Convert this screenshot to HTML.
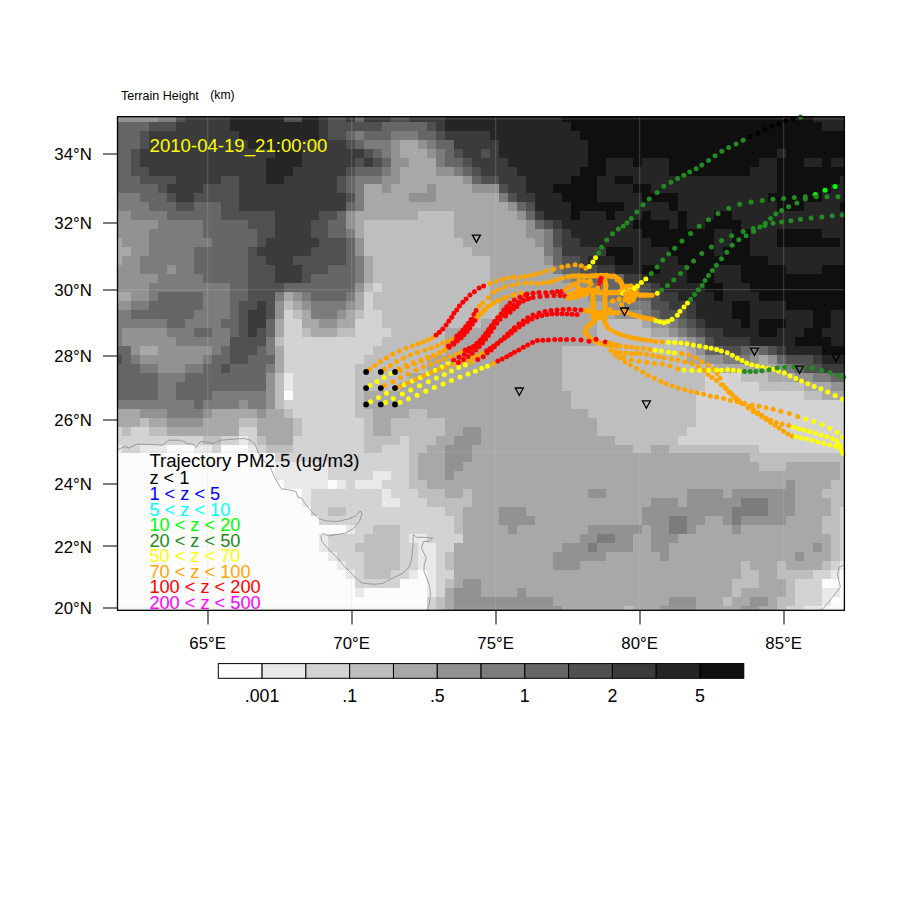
<!DOCTYPE html>
<html><head><meta charset="utf-8">
<style>
html,body{margin:0;padding:0;background:#fff;}
body{width:900px;height:900px;overflow:hidden;}
svg{display:block;}
</style></head>
<body>
<svg width="900" height="900" viewBox="0 0 900 900" font-family="'Liberation Sans', sans-serif">
<rect width="900" height="900" fill="#fff"/>
<g shape-rendering="crispEdges"><rect x="117.50" y="116.70" width="40.57" height="5.00" fill="#929292"/><rect x="158.07" y="116.70" width="17.93" height="5.00" fill="#7c7c7c"/><rect x="176.00" y="116.70" width="8.97" height="5.00" fill="#505050"/><rect x="184.97" y="116.70" width="44.84" height="5.00" fill="#3b3b3b"/><rect x="229.80" y="116.70" width="53.80" height="5.00" fill="#252525"/><rect x="283.61" y="116.70" width="17.93" height="5.00" fill="#505050"/><rect x="301.54" y="116.70" width="17.93" height="5.00" fill="#252525"/><rect x="319.47" y="116.70" width="8.97" height="5.00" fill="#3b3b3b"/><rect x="328.44" y="116.70" width="17.93" height="5.00" fill="#505050"/><rect x="346.38" y="116.70" width="8.97" height="5.00" fill="#3b3b3b"/><rect x="355.34" y="116.70" width="8.97" height="5.00" fill="#666666"/><rect x="364.31" y="116.70" width="26.90" height="5.00" fill="#3b3b3b"/><rect x="391.21" y="116.70" width="17.93" height="5.00" fill="#505050"/><rect x="409.14" y="116.70" width="35.87" height="5.00" fill="#3b3b3b"/><rect x="445.01" y="116.70" width="116.57" height="5.00" fill="#252525"/><rect x="561.58" y="116.70" width="251.08" height="5.00" fill="#0f0f0f"/><rect x="812.66" y="116.70" width="31.74" height="5.00" fill="#252525"/><rect x="117.50" y="121.70" width="31.60" height="8.97" fill="#666666"/><rect x="149.10" y="121.70" width="26.90" height="8.97" fill="#505050"/><rect x="176.00" y="121.70" width="53.80" height="8.97" fill="#3b3b3b"/><rect x="229.80" y="121.70" width="89.67" height="8.97" fill="#252525"/><rect x="319.47" y="121.70" width="8.97" height="8.97" fill="#3b3b3b"/><rect x="328.44" y="121.70" width="53.80" height="8.97" fill="#505050"/><rect x="382.24" y="121.70" width="44.84" height="8.97" fill="#666666"/><rect x="427.08" y="121.70" width="8.97" height="8.97" fill="#505050"/><rect x="436.05" y="121.70" width="8.97" height="8.97" fill="#3b3b3b"/><rect x="445.01" y="121.70" width="125.54" height="8.97" fill="#252525"/><rect x="570.55" y="121.70" width="251.08" height="8.97" fill="#0f0f0f"/><rect x="821.63" y="121.70" width="22.77" height="8.97" fill="#252525"/><rect x="117.50" y="130.67" width="22.63" height="8.97" fill="#666666"/><rect x="140.13" y="130.67" width="8.97" height="8.97" fill="#505050"/><rect x="149.10" y="130.67" width="89.67" height="8.97" fill="#3b3b3b"/><rect x="238.77" y="130.67" width="80.70" height="8.97" fill="#252525"/><rect x="319.47" y="130.67" width="8.97" height="8.97" fill="#3b3b3b"/><rect x="328.44" y="130.67" width="17.93" height="8.97" fill="#505050"/><rect x="346.38" y="130.67" width="8.97" height="8.97" fill="#666666"/><rect x="355.34" y="130.67" width="8.97" height="8.97" fill="#7c7c7c"/><rect x="364.31" y="130.67" width="26.90" height="8.97" fill="#666666"/><rect x="391.21" y="130.67" width="26.90" height="8.97" fill="#7c7c7c"/><rect x="418.11" y="130.67" width="17.93" height="8.97" fill="#666666"/><rect x="436.05" y="130.67" width="8.97" height="8.97" fill="#505050"/><rect x="445.01" y="130.67" width="44.84" height="8.97" fill="#3b3b3b"/><rect x="489.85" y="130.67" width="89.67" height="8.97" fill="#252525"/><rect x="579.52" y="130.67" width="264.88" height="8.97" fill="#0f0f0f"/><rect x="117.50" y="139.63" width="22.63" height="8.97" fill="#666666"/><rect x="140.13" y="139.63" width="8.97" height="8.97" fill="#505050"/><rect x="149.10" y="139.63" width="98.64" height="8.97" fill="#3b3b3b"/><rect x="247.74" y="139.63" width="53.80" height="8.97" fill="#252525"/><rect x="301.54" y="139.63" width="44.83" height="8.97" fill="#3b3b3b"/><rect x="346.38" y="139.63" width="8.97" height="8.97" fill="#505050"/><rect x="355.34" y="139.63" width="8.97" height="8.97" fill="#666666"/><rect x="364.31" y="139.63" width="26.90" height="8.97" fill="#7c7c7c"/><rect x="391.21" y="139.63" width="8.97" height="8.97" fill="#929292"/><rect x="400.18" y="139.63" width="17.93" height="8.97" fill="#a8a8a8"/><rect x="418.11" y="139.63" width="8.97" height="8.97" fill="#929292"/><rect x="427.08" y="139.63" width="8.97" height="8.97" fill="#7c7c7c"/><rect x="436.05" y="139.63" width="17.93" height="8.97" fill="#666666"/><rect x="453.98" y="139.63" width="44.84" height="8.97" fill="#3b3b3b"/><rect x="498.81" y="139.63" width="89.67" height="8.97" fill="#252525"/><rect x="588.48" y="139.63" width="255.92" height="8.97" fill="#0f0f0f"/><rect x="117.50" y="148.60" width="13.67" height="8.97" fill="#666666"/><rect x="131.17" y="148.60" width="8.97" height="8.97" fill="#505050"/><rect x="140.13" y="148.60" width="134.50" height="8.97" fill="#3b3b3b"/><rect x="274.64" y="148.60" width="26.90" height="8.97" fill="#252525"/><rect x="301.54" y="148.60" width="62.77" height="8.97" fill="#3b3b3b"/><rect x="364.31" y="148.60" width="8.97" height="8.97" fill="#505050"/><rect x="373.28" y="148.60" width="8.97" height="8.97" fill="#666666"/><rect x="382.24" y="148.60" width="8.97" height="8.97" fill="#7c7c7c"/><rect x="391.21" y="148.60" width="8.97" height="8.97" fill="#929292"/><rect x="400.18" y="148.60" width="26.90" height="8.97" fill="#a8a8a8"/><rect x="427.08" y="148.60" width="8.97" height="8.97" fill="#929292"/><rect x="436.05" y="148.60" width="8.97" height="8.97" fill="#7c7c7c"/><rect x="445.01" y="148.60" width="8.97" height="8.97" fill="#666666"/><rect x="453.98" y="148.60" width="8.97" height="8.97" fill="#505050"/><rect x="462.95" y="148.60" width="17.93" height="8.97" fill="#3b3b3b"/><rect x="480.88" y="148.60" width="8.97" height="8.97" fill="#505050"/><rect x="489.85" y="148.60" width="8.97" height="8.97" fill="#3b3b3b"/><rect x="498.81" y="148.60" width="89.67" height="8.97" fill="#252525"/><rect x="588.48" y="148.60" width="188.31" height="8.97" fill="#0f0f0f"/><rect x="776.79" y="148.60" width="8.97" height="8.97" fill="#252525"/><rect x="785.76" y="148.60" width="58.64" height="8.97" fill="#0f0f0f"/><rect x="117.50" y="157.57" width="13.67" height="8.97" fill="#666666"/><rect x="131.17" y="157.57" width="8.97" height="8.97" fill="#505050"/><rect x="140.13" y="157.57" width="125.54" height="8.97" fill="#3b3b3b"/><rect x="265.67" y="157.57" width="35.87" height="8.97" fill="#252525"/><rect x="301.54" y="157.57" width="53.80" height="8.97" fill="#3b3b3b"/><rect x="355.34" y="157.57" width="8.97" height="8.97" fill="#505050"/><rect x="364.31" y="157.57" width="8.97" height="8.97" fill="#3b3b3b"/><rect x="373.28" y="157.57" width="8.97" height="8.97" fill="#505050"/><rect x="382.24" y="157.57" width="8.97" height="8.97" fill="#666666"/><rect x="391.21" y="157.57" width="17.93" height="8.97" fill="#929292"/><rect x="409.14" y="157.57" width="26.90" height="8.97" fill="#a8a8a8"/><rect x="436.05" y="157.57" width="8.97" height="8.97" fill="#7c7c7c"/><rect x="445.01" y="157.57" width="17.93" height="8.97" fill="#666666"/><rect x="462.95" y="157.57" width="8.97" height="8.97" fill="#505050"/><rect x="471.91" y="157.57" width="35.87" height="8.97" fill="#3b3b3b"/><rect x="507.78" y="157.57" width="80.70" height="8.97" fill="#252525"/><rect x="588.48" y="157.57" width="17.93" height="8.97" fill="#0f0f0f"/><rect x="606.42" y="157.57" width="26.90" height="8.97" fill="#252525"/><rect x="633.32" y="157.57" width="8.97" height="8.97" fill="#0f0f0f"/><rect x="642.29" y="157.57" width="26.90" height="8.97" fill="#252525"/><rect x="669.19" y="157.57" width="89.67" height="8.97" fill="#0f0f0f"/><rect x="758.86" y="157.57" width="17.93" height="8.97" fill="#252525"/><rect x="776.79" y="157.57" width="26.90" height="8.97" fill="#0f0f0f"/><rect x="803.69" y="157.57" width="17.93" height="8.97" fill="#252525"/><rect x="821.63" y="157.57" width="8.97" height="8.97" fill="#0f0f0f"/><rect x="830.59" y="157.57" width="13.81" height="8.97" fill="#252525"/><rect x="117.50" y="166.53" width="13.67" height="8.97" fill="#666666"/><rect x="131.17" y="166.53" width="17.93" height="8.97" fill="#505050"/><rect x="149.10" y="166.53" width="116.57" height="8.97" fill="#3b3b3b"/><rect x="265.67" y="166.53" width="26.90" height="8.97" fill="#252525"/><rect x="292.57" y="166.53" width="53.80" height="8.97" fill="#3b3b3b"/><rect x="346.38" y="166.53" width="8.97" height="8.97" fill="#505050"/><rect x="355.34" y="166.53" width="26.90" height="8.97" fill="#666666"/><rect x="382.24" y="166.53" width="8.97" height="8.97" fill="#7c7c7c"/><rect x="391.21" y="166.53" width="8.97" height="8.97" fill="#929292"/><rect x="400.18" y="166.53" width="35.87" height="8.97" fill="#a8a8a8"/><rect x="436.05" y="166.53" width="17.93" height="8.97" fill="#929292"/><rect x="453.98" y="166.53" width="8.97" height="8.97" fill="#7c7c7c"/><rect x="462.95" y="166.53" width="8.97" height="8.97" fill="#666666"/><rect x="471.91" y="166.53" width="8.97" height="8.97" fill="#505050"/><rect x="480.88" y="166.53" width="35.87" height="8.97" fill="#3b3b3b"/><rect x="516.75" y="166.53" width="62.77" height="8.97" fill="#252525"/><rect x="579.52" y="166.53" width="26.90" height="8.97" fill="#0f0f0f"/><rect x="606.42" y="166.53" width="62.77" height="8.97" fill="#252525"/><rect x="669.19" y="166.53" width="80.70" height="8.97" fill="#0f0f0f"/><rect x="749.89" y="166.53" width="26.90" height="8.97" fill="#252525"/><rect x="776.79" y="166.53" width="67.61" height="8.97" fill="#0f0f0f"/><rect x="117.50" y="175.50" width="22.63" height="8.97" fill="#666666"/><rect x="140.13" y="175.50" width="35.87" height="8.97" fill="#505050"/><rect x="176.00" y="175.50" width="44.83" height="8.97" fill="#3b3b3b"/><rect x="220.84" y="175.50" width="17.93" height="8.97" fill="#505050"/><rect x="238.77" y="175.50" width="26.90" height="8.97" fill="#3b3b3b"/><rect x="265.67" y="175.50" width="17.93" height="8.97" fill="#252525"/><rect x="283.61" y="175.50" width="53.80" height="8.97" fill="#3b3b3b"/><rect x="337.41" y="175.50" width="8.97" height="8.97" fill="#505050"/><rect x="346.38" y="175.50" width="8.97" height="8.97" fill="#666666"/><rect x="355.34" y="175.50" width="26.90" height="8.97" fill="#7c7c7c"/><rect x="382.24" y="175.50" width="17.93" height="8.97" fill="#929292"/><rect x="400.18" y="175.50" width="62.77" height="8.97" fill="#a8a8a8"/><rect x="462.95" y="175.50" width="8.97" height="8.97" fill="#929292"/><rect x="471.91" y="175.50" width="8.97" height="8.97" fill="#666666"/><rect x="480.88" y="175.50" width="17.93" height="8.97" fill="#505050"/><rect x="498.81" y="175.50" width="26.90" height="8.97" fill="#3b3b3b"/><rect x="525.72" y="175.50" width="44.84" height="8.97" fill="#252525"/><rect x="570.55" y="175.50" width="26.90" height="8.97" fill="#0f0f0f"/><rect x="597.45" y="175.50" width="17.93" height="8.97" fill="#252525"/><rect x="615.38" y="175.50" width="17.93" height="8.97" fill="#0f0f0f"/><rect x="633.32" y="175.50" width="143.47" height="8.97" fill="#252525"/><rect x="776.79" y="175.50" width="62.77" height="8.97" fill="#0f0f0f"/><rect x="839.56" y="175.50" width="4.84" height="8.97" fill="#252525"/><rect x="117.50" y="184.47" width="40.57" height="8.97" fill="#666666"/><rect x="158.07" y="184.47" width="8.97" height="8.97" fill="#505050"/><rect x="167.03" y="184.47" width="35.87" height="8.97" fill="#3b3b3b"/><rect x="202.90" y="184.47" width="35.87" height="8.97" fill="#505050"/><rect x="238.77" y="184.47" width="98.64" height="8.97" fill="#3b3b3b"/><rect x="337.41" y="184.47" width="8.97" height="8.97" fill="#505050"/><rect x="346.38" y="184.47" width="8.97" height="8.97" fill="#666666"/><rect x="355.34" y="184.47" width="8.97" height="8.97" fill="#7c7c7c"/><rect x="364.31" y="184.47" width="17.93" height="8.97" fill="#a8a8a8"/><rect x="382.24" y="184.47" width="8.97" height="8.97" fill="#929292"/><rect x="391.21" y="184.47" width="35.87" height="8.97" fill="#a8a8a8"/><rect x="427.08" y="184.47" width="8.97" height="8.97" fill="#929292"/><rect x="436.05" y="184.47" width="35.87" height="8.97" fill="#a8a8a8"/><rect x="471.91" y="184.47" width="26.90" height="8.97" fill="#929292"/><rect x="498.81" y="184.47" width="8.97" height="8.97" fill="#505050"/><rect x="507.78" y="184.47" width="17.93" height="8.97" fill="#3b3b3b"/><rect x="525.72" y="184.47" width="26.90" height="8.97" fill="#252525"/><rect x="552.62" y="184.47" width="44.83" height="8.97" fill="#0f0f0f"/><rect x="597.45" y="184.47" width="35.87" height="8.97" fill="#252525"/><rect x="633.32" y="184.47" width="17.93" height="8.97" fill="#0f0f0f"/><rect x="651.25" y="184.47" width="125.54" height="8.97" fill="#252525"/><rect x="776.79" y="184.47" width="53.80" height="8.97" fill="#0f0f0f"/><rect x="830.59" y="184.47" width="13.81" height="8.97" fill="#252525"/><rect x="117.50" y="193.44" width="22.63" height="8.97" fill="#7c7c7c"/><rect x="140.13" y="193.44" width="26.90" height="8.97" fill="#666666"/><rect x="167.03" y="193.44" width="8.97" height="8.97" fill="#505050"/><rect x="176.00" y="193.44" width="17.93" height="8.97" fill="#3b3b3b"/><rect x="193.94" y="193.44" width="44.84" height="8.97" fill="#505050"/><rect x="238.77" y="193.44" width="107.60" height="8.97" fill="#3b3b3b"/><rect x="346.38" y="193.44" width="8.97" height="8.97" fill="#505050"/><rect x="355.34" y="193.44" width="8.97" height="8.97" fill="#7c7c7c"/><rect x="364.31" y="193.44" width="44.83" height="8.97" fill="#a8a8a8"/><rect x="409.14" y="193.44" width="26.90" height="8.97" fill="#929292"/><rect x="436.05" y="193.44" width="62.77" height="8.97" fill="#a8a8a8"/><rect x="498.81" y="193.44" width="8.97" height="8.97" fill="#7c7c7c"/><rect x="507.78" y="193.44" width="8.97" height="8.97" fill="#505050"/><rect x="516.75" y="193.44" width="17.93" height="8.97" fill="#3b3b3b"/><rect x="534.68" y="193.44" width="26.90" height="8.97" fill="#252525"/><rect x="561.58" y="193.44" width="35.87" height="8.97" fill="#0f0f0f"/><rect x="597.45" y="193.44" width="44.84" height="8.97" fill="#252525"/><rect x="642.29" y="193.44" width="35.87" height="8.97" fill="#0f0f0f"/><rect x="678.15" y="193.44" width="89.67" height="8.97" fill="#252525"/><rect x="767.82" y="193.44" width="53.80" height="8.97" fill="#0f0f0f"/><rect x="821.63" y="193.44" width="22.77" height="8.97" fill="#252525"/><rect x="117.50" y="202.40" width="31.60" height="8.97" fill="#7c7c7c"/><rect x="149.10" y="202.40" width="26.90" height="8.97" fill="#666666"/><rect x="176.00" y="202.40" width="17.93" height="8.97" fill="#505050"/><rect x="193.94" y="202.40" width="26.90" height="8.97" fill="#666666"/><rect x="220.84" y="202.40" width="17.93" height="8.97" fill="#505050"/><rect x="238.77" y="202.40" width="107.60" height="8.97" fill="#3b3b3b"/><rect x="346.38" y="202.40" width="8.97" height="8.97" fill="#666666"/><rect x="355.34" y="202.40" width="8.97" height="8.97" fill="#7c7c7c"/><rect x="364.31" y="202.40" width="143.47" height="8.97" fill="#a8a8a8"/><rect x="507.78" y="202.40" width="8.97" height="8.97" fill="#929292"/><rect x="516.75" y="202.40" width="8.97" height="8.97" fill="#666666"/><rect x="525.72" y="202.40" width="8.97" height="8.97" fill="#505050"/><rect x="534.68" y="202.40" width="35.87" height="8.97" fill="#252525"/><rect x="570.55" y="202.40" width="53.80" height="8.97" fill="#0f0f0f"/><rect x="624.35" y="202.40" width="44.84" height="8.97" fill="#252525"/><rect x="669.19" y="202.40" width="8.97" height="8.97" fill="#0f0f0f"/><rect x="678.15" y="202.40" width="98.64" height="8.97" fill="#252525"/><rect x="776.79" y="202.40" width="26.90" height="8.97" fill="#0f0f0f"/><rect x="803.69" y="202.40" width="35.87" height="8.97" fill="#252525"/><rect x="839.56" y="202.40" width="4.84" height="8.97" fill="#0f0f0f"/><rect x="117.50" y="211.37" width="13.67" height="8.97" fill="#929292"/><rect x="131.17" y="211.37" width="35.87" height="8.97" fill="#7c7c7c"/><rect x="167.03" y="211.37" width="53.80" height="8.97" fill="#666666"/><rect x="220.84" y="211.37" width="53.80" height="8.97" fill="#505050"/><rect x="274.64" y="211.37" width="44.83" height="8.97" fill="#3b3b3b"/><rect x="319.47" y="211.37" width="17.93" height="8.97" fill="#505050"/><rect x="337.41" y="211.37" width="8.97" height="8.97" fill="#666666"/><rect x="346.38" y="211.37" width="8.97" height="8.97" fill="#929292"/><rect x="355.34" y="211.37" width="62.77" height="8.97" fill="#a8a8a8"/><rect x="418.11" y="211.37" width="35.87" height="8.97" fill="#bebebe"/><rect x="453.98" y="211.37" width="62.77" height="8.97" fill="#a8a8a8"/><rect x="516.75" y="211.37" width="8.97" height="8.97" fill="#929292"/><rect x="525.72" y="211.37" width="8.97" height="8.97" fill="#666666"/><rect x="534.68" y="211.37" width="8.97" height="8.97" fill="#3b3b3b"/><rect x="543.65" y="211.37" width="26.90" height="8.97" fill="#252525"/><rect x="570.55" y="211.37" width="8.97" height="8.97" fill="#0f0f0f"/><rect x="579.52" y="211.37" width="26.90" height="8.97" fill="#252525"/><rect x="606.42" y="211.37" width="8.97" height="8.97" fill="#0f0f0f"/><rect x="615.38" y="211.37" width="26.90" height="8.97" fill="#252525"/><rect x="642.29" y="211.37" width="8.97" height="8.97" fill="#0f0f0f"/><rect x="651.25" y="211.37" width="26.90" height="8.97" fill="#252525"/><rect x="678.15" y="211.37" width="8.97" height="8.97" fill="#0f0f0f"/><rect x="687.12" y="211.37" width="26.90" height="8.97" fill="#252525"/><rect x="714.02" y="211.37" width="17.93" height="8.97" fill="#0f0f0f"/><rect x="731.96" y="211.37" width="112.44" height="8.97" fill="#252525"/><rect x="117.50" y="220.34" width="40.57" height="8.97" fill="#929292"/><rect x="158.07" y="220.34" width="44.84" height="8.97" fill="#7c7c7c"/><rect x="202.90" y="220.34" width="44.83" height="8.97" fill="#666666"/><rect x="247.74" y="220.34" width="26.90" height="8.97" fill="#505050"/><rect x="274.64" y="220.34" width="35.87" height="8.97" fill="#3b3b3b"/><rect x="310.51" y="220.34" width="17.93" height="8.97" fill="#505050"/><rect x="328.44" y="220.34" width="17.93" height="8.97" fill="#666666"/><rect x="346.38" y="220.34" width="8.97" height="8.97" fill="#929292"/><rect x="355.34" y="220.34" width="8.97" height="8.97" fill="#a8a8a8"/><rect x="364.31" y="220.34" width="89.67" height="8.97" fill="#bebebe"/><rect x="453.98" y="220.34" width="71.74" height="8.97" fill="#a8a8a8"/><rect x="525.72" y="220.34" width="8.97" height="8.97" fill="#929292"/><rect x="534.68" y="220.34" width="8.97" height="8.97" fill="#666666"/><rect x="543.65" y="220.34" width="8.97" height="8.97" fill="#505050"/><rect x="552.62" y="220.34" width="8.97" height="8.97" fill="#3b3b3b"/><rect x="561.58" y="220.34" width="71.74" height="8.97" fill="#252525"/><rect x="633.32" y="220.34" width="35.87" height="8.97" fill="#0f0f0f"/><rect x="669.19" y="220.34" width="8.97" height="8.97" fill="#252525"/><rect x="678.15" y="220.34" width="8.97" height="8.97" fill="#0f0f0f"/><rect x="687.12" y="220.34" width="17.93" height="8.97" fill="#252525"/><rect x="705.06" y="220.34" width="35.87" height="8.97" fill="#0f0f0f"/><rect x="740.92" y="220.34" width="103.48" height="8.97" fill="#252525"/><rect x="117.50" y="229.30" width="31.60" height="8.97" fill="#929292"/><rect x="149.10" y="229.30" width="53.80" height="8.97" fill="#7c7c7c"/><rect x="202.90" y="229.30" width="53.80" height="8.97" fill="#666666"/><rect x="256.70" y="229.30" width="17.93" height="8.97" fill="#505050"/><rect x="274.64" y="229.30" width="35.87" height="8.97" fill="#3b3b3b"/><rect x="310.51" y="229.30" width="17.93" height="8.97" fill="#505050"/><rect x="328.44" y="229.30" width="17.93" height="8.97" fill="#666666"/><rect x="346.38" y="229.30" width="8.97" height="8.97" fill="#7c7c7c"/><rect x="355.34" y="229.30" width="8.97" height="8.97" fill="#a8a8a8"/><rect x="364.31" y="229.30" width="89.67" height="8.97" fill="#bebebe"/><rect x="453.98" y="229.30" width="71.74" height="8.97" fill="#a8a8a8"/><rect x="525.72" y="229.30" width="17.93" height="8.97" fill="#929292"/><rect x="543.65" y="229.30" width="8.97" height="8.97" fill="#7c7c7c"/><rect x="552.62" y="229.30" width="8.97" height="8.97" fill="#505050"/><rect x="561.58" y="229.30" width="8.97" height="8.97" fill="#3b3b3b"/><rect x="570.55" y="229.30" width="71.74" height="8.97" fill="#252525"/><rect x="642.29" y="229.30" width="71.74" height="8.97" fill="#0f0f0f"/><rect x="714.02" y="229.30" width="17.93" height="8.97" fill="#252525"/><rect x="731.96" y="229.30" width="17.93" height="8.97" fill="#0f0f0f"/><rect x="749.89" y="229.30" width="26.90" height="8.97" fill="#252525"/><rect x="776.79" y="229.30" width="44.84" height="8.97" fill="#0f0f0f"/><rect x="821.63" y="229.30" width="22.77" height="8.97" fill="#252525"/><rect x="117.50" y="238.27" width="4.70" height="8.97" fill="#a8a8a8"/><rect x="122.20" y="238.27" width="26.90" height="8.97" fill="#929292"/><rect x="149.10" y="238.27" width="62.77" height="8.97" fill="#7c7c7c"/><rect x="211.87" y="238.27" width="44.83" height="8.97" fill="#666666"/><rect x="256.70" y="238.27" width="8.97" height="8.97" fill="#505050"/><rect x="265.67" y="238.27" width="53.80" height="8.97" fill="#3b3b3b"/><rect x="319.47" y="238.27" width="26.90" height="8.97" fill="#505050"/><rect x="346.38" y="238.27" width="8.97" height="8.97" fill="#666666"/><rect x="355.34" y="238.27" width="8.97" height="8.97" fill="#929292"/><rect x="364.31" y="238.27" width="98.64" height="8.97" fill="#bebebe"/><rect x="462.95" y="238.27" width="71.74" height="8.97" fill="#a8a8a8"/><rect x="534.68" y="238.27" width="8.97" height="8.97" fill="#929292"/><rect x="543.65" y="238.27" width="8.97" height="8.97" fill="#7c7c7c"/><rect x="552.62" y="238.27" width="8.97" height="8.97" fill="#505050"/><rect x="561.58" y="238.27" width="17.93" height="8.97" fill="#3b3b3b"/><rect x="579.52" y="238.27" width="71.74" height="8.97" fill="#252525"/><rect x="651.25" y="238.27" width="62.77" height="8.97" fill="#0f0f0f"/><rect x="714.02" y="238.27" width="17.93" height="8.97" fill="#252525"/><rect x="731.96" y="238.27" width="17.93" height="8.97" fill="#0f0f0f"/><rect x="749.89" y="238.27" width="26.90" height="8.97" fill="#252525"/><rect x="776.79" y="238.27" width="62.77" height="8.97" fill="#0f0f0f"/><rect x="839.56" y="238.27" width="4.84" height="8.97" fill="#252525"/><rect x="117.50" y="247.24" width="13.67" height="8.97" fill="#a8a8a8"/><rect x="131.17" y="247.24" width="17.93" height="8.97" fill="#929292"/><rect x="149.10" y="247.24" width="44.84" height="8.97" fill="#7c7c7c"/><rect x="193.94" y="247.24" width="53.80" height="8.97" fill="#666666"/><rect x="247.74" y="247.24" width="8.97" height="8.97" fill="#505050"/><rect x="256.70" y="247.24" width="53.80" height="8.97" fill="#3b3b3b"/><rect x="310.51" y="247.24" width="35.87" height="8.97" fill="#505050"/><rect x="346.38" y="247.24" width="8.97" height="8.97" fill="#666666"/><rect x="355.34" y="247.24" width="8.97" height="8.97" fill="#929292"/><rect x="364.31" y="247.24" width="107.60" height="8.97" fill="#bebebe"/><rect x="471.91" y="247.24" width="71.74" height="8.97" fill="#a8a8a8"/><rect x="543.65" y="247.24" width="8.97" height="8.97" fill="#7c7c7c"/><rect x="552.62" y="247.24" width="8.97" height="8.97" fill="#666666"/><rect x="561.58" y="247.24" width="44.83" height="8.97" fill="#3b3b3b"/><rect x="606.42" y="247.24" width="26.90" height="8.97" fill="#0f0f0f"/><rect x="633.32" y="247.24" width="35.87" height="8.97" fill="#252525"/><rect x="669.19" y="247.24" width="44.83" height="8.97" fill="#0f0f0f"/><rect x="714.02" y="247.24" width="8.97" height="8.97" fill="#252525"/><rect x="722.99" y="247.24" width="26.90" height="8.97" fill="#0f0f0f"/><rect x="749.89" y="247.24" width="94.51" height="8.97" fill="#252525"/><rect x="117.50" y="256.20" width="4.70" height="8.97" fill="#a8a8a8"/><rect x="122.20" y="256.20" width="17.93" height="8.97" fill="#929292"/><rect x="140.13" y="256.20" width="53.80" height="8.97" fill="#7c7c7c"/><rect x="193.94" y="256.20" width="53.80" height="8.97" fill="#666666"/><rect x="247.74" y="256.20" width="17.93" height="8.97" fill="#505050"/><rect x="265.67" y="256.20" width="26.90" height="8.97" fill="#3b3b3b"/><rect x="292.57" y="256.20" width="53.80" height="8.97" fill="#505050"/><rect x="346.38" y="256.20" width="8.97" height="8.97" fill="#666666"/><rect x="355.34" y="256.20" width="8.97" height="8.97" fill="#7c7c7c"/><rect x="364.31" y="256.20" width="8.97" height="8.97" fill="#a8a8a8"/><rect x="373.28" y="256.20" width="116.57" height="8.97" fill="#bebebe"/><rect x="489.85" y="256.20" width="53.80" height="8.97" fill="#a8a8a8"/><rect x="543.65" y="256.20" width="8.97" height="8.97" fill="#929292"/><rect x="552.62" y="256.20" width="8.97" height="8.97" fill="#666666"/><rect x="561.58" y="256.20" width="17.93" height="8.97" fill="#505050"/><rect x="579.52" y="256.20" width="8.97" height="8.97" fill="#3b3b3b"/><rect x="588.48" y="256.20" width="26.90" height="8.97" fill="#252525"/><rect x="615.38" y="256.20" width="17.93" height="8.97" fill="#0f0f0f"/><rect x="633.32" y="256.20" width="44.84" height="8.97" fill="#252525"/><rect x="678.15" y="256.20" width="89.67" height="8.97" fill="#0f0f0f"/><rect x="767.82" y="256.20" width="76.58" height="8.97" fill="#252525"/><rect x="117.50" y="265.17" width="22.63" height="8.97" fill="#929292"/><rect x="140.13" y="265.17" width="26.90" height="8.97" fill="#7c7c7c"/><rect x="167.03" y="265.17" width="8.97" height="8.97" fill="#929292"/><rect x="176.00" y="265.17" width="17.93" height="8.97" fill="#7c7c7c"/><rect x="193.94" y="265.17" width="53.80" height="8.97" fill="#666666"/><rect x="247.74" y="265.17" width="26.90" height="8.97" fill="#505050"/><rect x="274.64" y="265.17" width="26.90" height="8.97" fill="#3b3b3b"/><rect x="301.54" y="265.17" width="26.90" height="8.97" fill="#505050"/><rect x="328.44" y="265.17" width="26.90" height="8.97" fill="#666666"/><rect x="355.34" y="265.17" width="8.97" height="8.97" fill="#7c7c7c"/><rect x="364.31" y="265.17" width="8.97" height="8.97" fill="#a8a8a8"/><rect x="373.28" y="265.17" width="116.57" height="8.97" fill="#bebebe"/><rect x="489.85" y="265.17" width="62.77" height="8.97" fill="#a8a8a8"/><rect x="552.62" y="265.17" width="8.97" height="8.97" fill="#7c7c7c"/><rect x="561.58" y="265.17" width="17.93" height="8.97" fill="#666666"/><rect x="579.52" y="265.17" width="17.93" height="8.97" fill="#505050"/><rect x="597.45" y="265.17" width="17.93" height="8.97" fill="#3b3b3b"/><rect x="615.38" y="265.17" width="26.90" height="8.97" fill="#252525"/><rect x="642.29" y="265.17" width="17.93" height="8.97" fill="#0f0f0f"/><rect x="660.22" y="265.17" width="26.90" height="8.97" fill="#252525"/><rect x="687.12" y="265.17" width="26.90" height="8.97" fill="#0f0f0f"/><rect x="714.02" y="265.17" width="26.90" height="8.97" fill="#252525"/><rect x="740.92" y="265.17" width="44.83" height="8.97" fill="#0f0f0f"/><rect x="785.76" y="265.17" width="35.87" height="8.97" fill="#252525"/><rect x="821.63" y="265.17" width="22.77" height="8.97" fill="#0f0f0f"/><rect x="117.50" y="274.14" width="40.57" height="8.97" fill="#929292"/><rect x="158.07" y="274.14" width="44.84" height="8.97" fill="#7c7c7c"/><rect x="202.90" y="274.14" width="44.83" height="8.97" fill="#666666"/><rect x="247.74" y="274.14" width="26.90" height="8.97" fill="#505050"/><rect x="274.64" y="274.14" width="26.90" height="8.97" fill="#3b3b3b"/><rect x="301.54" y="274.14" width="8.97" height="8.97" fill="#505050"/><rect x="310.51" y="274.14" width="44.84" height="8.97" fill="#666666"/><rect x="355.34" y="274.14" width="8.97" height="8.97" fill="#7c7c7c"/><rect x="364.31" y="274.14" width="8.97" height="8.97" fill="#a8a8a8"/><rect x="373.28" y="274.14" width="116.57" height="8.97" fill="#bebebe"/><rect x="489.85" y="274.14" width="71.74" height="8.97" fill="#a8a8a8"/><rect x="561.58" y="274.14" width="8.97" height="8.97" fill="#929292"/><rect x="570.55" y="274.14" width="17.93" height="8.97" fill="#7c7c7c"/><rect x="588.48" y="274.14" width="35.87" height="8.97" fill="#666666"/><rect x="624.35" y="274.14" width="17.93" height="8.97" fill="#3b3b3b"/><rect x="642.29" y="274.14" width="44.84" height="8.97" fill="#252525"/><rect x="687.12" y="274.14" width="26.90" height="8.97" fill="#0f0f0f"/><rect x="714.02" y="274.14" width="26.90" height="8.97" fill="#252525"/><rect x="740.92" y="274.14" width="103.48" height="8.97" fill="#0f0f0f"/><rect x="117.50" y="283.11" width="31.60" height="8.97" fill="#929292"/><rect x="149.10" y="283.11" width="80.70" height="8.97" fill="#7c7c7c"/><rect x="229.80" y="283.11" width="17.93" height="8.97" fill="#666666"/><rect x="247.74" y="283.11" width="35.87" height="8.97" fill="#505050"/><rect x="283.61" y="283.11" width="71.74" height="8.97" fill="#666666"/><rect x="355.34" y="283.11" width="8.97" height="8.97" fill="#929292"/><rect x="364.31" y="283.11" width="8.97" height="8.97" fill="#bebebe"/><rect x="373.28" y="283.11" width="8.97" height="8.97" fill="#d3d3d3"/><rect x="382.24" y="283.11" width="107.60" height="8.97" fill="#bebebe"/><rect x="489.85" y="283.11" width="89.67" height="8.97" fill="#a8a8a8"/><rect x="579.52" y="283.11" width="8.97" height="8.97" fill="#929292"/><rect x="588.48" y="283.11" width="17.93" height="8.97" fill="#7c7c7c"/><rect x="606.42" y="283.11" width="17.93" height="8.97" fill="#666666"/><rect x="624.35" y="283.11" width="26.90" height="8.97" fill="#505050"/><rect x="651.25" y="283.11" width="8.97" height="8.97" fill="#3b3b3b"/><rect x="660.22" y="283.11" width="44.84" height="8.97" fill="#252525"/><rect x="705.06" y="283.11" width="17.93" height="8.97" fill="#0f0f0f"/><rect x="722.99" y="283.11" width="26.90" height="8.97" fill="#252525"/><rect x="749.89" y="283.11" width="94.51" height="8.97" fill="#0f0f0f"/><rect x="117.50" y="292.07" width="13.67" height="8.97" fill="#a8a8a8"/><rect x="131.17" y="292.07" width="17.93" height="8.97" fill="#929292"/><rect x="149.10" y="292.07" width="8.97" height="8.97" fill="#7c7c7c"/><rect x="158.07" y="292.07" width="44.84" height="8.97" fill="#666666"/><rect x="202.90" y="292.07" width="26.90" height="8.97" fill="#7c7c7c"/><rect x="229.80" y="292.07" width="17.93" height="8.97" fill="#666666"/><rect x="247.74" y="292.07" width="26.90" height="8.97" fill="#505050"/><rect x="274.64" y="292.07" width="8.97" height="8.97" fill="#7c7c7c"/><rect x="283.61" y="292.07" width="8.97" height="8.97" fill="#a8a8a8"/><rect x="292.57" y="292.07" width="8.97" height="8.97" fill="#929292"/><rect x="301.54" y="292.07" width="8.97" height="8.97" fill="#7c7c7c"/><rect x="310.51" y="292.07" width="35.87" height="8.97" fill="#666666"/><rect x="346.38" y="292.07" width="8.97" height="8.97" fill="#7c7c7c"/><rect x="355.34" y="292.07" width="8.97" height="8.97" fill="#a8a8a8"/><rect x="364.31" y="292.07" width="8.97" height="8.97" fill="#d3d3d3"/><rect x="373.28" y="292.07" width="116.57" height="8.97" fill="#bebebe"/><rect x="489.85" y="292.07" width="98.64" height="8.97" fill="#a8a8a8"/><rect x="588.48" y="292.07" width="17.93" height="8.97" fill="#929292"/><rect x="606.42" y="292.07" width="17.93" height="8.97" fill="#7c7c7c"/><rect x="624.35" y="292.07" width="26.90" height="8.97" fill="#666666"/><rect x="651.25" y="292.07" width="8.97" height="8.97" fill="#505050"/><rect x="660.22" y="292.07" width="17.93" height="8.97" fill="#3b3b3b"/><rect x="678.15" y="292.07" width="35.87" height="8.97" fill="#252525"/><rect x="714.02" y="292.07" width="8.97" height="8.97" fill="#0f0f0f"/><rect x="722.99" y="292.07" width="35.87" height="8.97" fill="#252525"/><rect x="758.86" y="292.07" width="85.54" height="8.97" fill="#0f0f0f"/><rect x="117.50" y="301.04" width="13.67" height="8.97" fill="#929292"/><rect x="131.17" y="301.04" width="17.93" height="8.97" fill="#7c7c7c"/><rect x="149.10" y="301.04" width="53.80" height="8.97" fill="#666666"/><rect x="202.90" y="301.04" width="26.90" height="8.97" fill="#7c7c7c"/><rect x="229.80" y="301.04" width="8.97" height="8.97" fill="#666666"/><rect x="238.77" y="301.04" width="17.93" height="8.97" fill="#505050"/><rect x="256.70" y="301.04" width="8.97" height="8.97" fill="#3b3b3b"/><rect x="265.67" y="301.04" width="8.97" height="8.97" fill="#505050"/><rect x="274.64" y="301.04" width="8.97" height="8.97" fill="#929292"/><rect x="283.61" y="301.04" width="8.97" height="8.97" fill="#bebebe"/><rect x="292.57" y="301.04" width="8.97" height="8.97" fill="#a8a8a8"/><rect x="301.54" y="301.04" width="8.97" height="8.97" fill="#929292"/><rect x="310.51" y="301.04" width="35.87" height="8.97" fill="#7c7c7c"/><rect x="346.38" y="301.04" width="8.97" height="8.97" fill="#929292"/><rect x="355.34" y="301.04" width="8.97" height="8.97" fill="#a8a8a8"/><rect x="364.31" y="301.04" width="8.97" height="8.97" fill="#d3d3d3"/><rect x="373.28" y="301.04" width="125.54" height="8.97" fill="#bebebe"/><rect x="498.81" y="301.04" width="107.60" height="8.97" fill="#a8a8a8"/><rect x="606.42" y="301.04" width="17.93" height="8.97" fill="#929292"/><rect x="624.35" y="301.04" width="26.90" height="8.97" fill="#7c7c7c"/><rect x="651.25" y="301.04" width="17.93" height="8.97" fill="#505050"/><rect x="669.19" y="301.04" width="26.90" height="8.97" fill="#3b3b3b"/><rect x="696.09" y="301.04" width="35.87" height="8.97" fill="#252525"/><rect x="731.96" y="301.04" width="17.93" height="8.97" fill="#0f0f0f"/><rect x="749.89" y="301.04" width="35.87" height="8.97" fill="#252525"/><rect x="785.76" y="301.04" width="58.64" height="8.97" fill="#0f0f0f"/><rect x="117.50" y="310.01" width="13.67" height="8.97" fill="#7c7c7c"/><rect x="131.17" y="310.01" width="62.77" height="8.97" fill="#666666"/><rect x="193.94" y="310.01" width="35.87" height="8.97" fill="#7c7c7c"/><rect x="229.80" y="310.01" width="8.97" height="8.97" fill="#666666"/><rect x="238.77" y="310.01" width="8.97" height="8.97" fill="#505050"/><rect x="247.74" y="310.01" width="17.93" height="8.97" fill="#3b3b3b"/><rect x="265.67" y="310.01" width="8.97" height="8.97" fill="#505050"/><rect x="274.64" y="310.01" width="8.97" height="8.97" fill="#929292"/><rect x="283.61" y="310.01" width="8.97" height="8.97" fill="#d3d3d3"/><rect x="292.57" y="310.01" width="8.97" height="8.97" fill="#bebebe"/><rect x="301.54" y="310.01" width="8.97" height="8.97" fill="#a8a8a8"/><rect x="310.51" y="310.01" width="26.90" height="8.97" fill="#7c7c7c"/><rect x="337.41" y="310.01" width="8.97" height="8.97" fill="#929292"/><rect x="346.38" y="310.01" width="8.97" height="8.97" fill="#a8a8a8"/><rect x="355.34" y="310.01" width="8.97" height="8.97" fill="#bebebe"/><rect x="364.31" y="310.01" width="17.93" height="8.97" fill="#d3d3d3"/><rect x="382.24" y="310.01" width="116.57" height="8.97" fill="#bebebe"/><rect x="498.81" y="310.01" width="116.57" height="8.97" fill="#a8a8a8"/><rect x="615.38" y="310.01" width="26.90" height="8.97" fill="#929292"/><rect x="642.29" y="310.01" width="8.97" height="8.97" fill="#7c7c7c"/><rect x="651.25" y="310.01" width="8.97" height="8.97" fill="#666666"/><rect x="660.22" y="310.01" width="26.90" height="8.97" fill="#505050"/><rect x="687.12" y="310.01" width="8.97" height="8.97" fill="#3b3b3b"/><rect x="696.09" y="310.01" width="35.87" height="8.97" fill="#252525"/><rect x="731.96" y="310.01" width="17.93" height="8.97" fill="#0f0f0f"/><rect x="749.89" y="310.01" width="62.77" height="8.97" fill="#252525"/><rect x="812.66" y="310.01" width="17.93" height="8.97" fill="#0f0f0f"/><rect x="830.59" y="310.01" width="13.81" height="8.97" fill="#252525"/><rect x="117.50" y="318.97" width="49.53" height="8.97" fill="#7c7c7c"/><rect x="167.03" y="318.97" width="17.93" height="8.97" fill="#666666"/><rect x="184.97" y="318.97" width="35.87" height="8.97" fill="#7c7c7c"/><rect x="220.84" y="318.97" width="17.93" height="8.97" fill="#666666"/><rect x="238.77" y="318.97" width="8.97" height="8.97" fill="#505050"/><rect x="247.74" y="318.97" width="17.93" height="8.97" fill="#3b3b3b"/><rect x="265.67" y="318.97" width="8.97" height="8.97" fill="#666666"/><rect x="274.64" y="318.97" width="8.97" height="8.97" fill="#a8a8a8"/><rect x="283.61" y="318.97" width="17.93" height="8.97" fill="#d3d3d3"/><rect x="301.54" y="318.97" width="17.93" height="8.97" fill="#a8a8a8"/><rect x="319.47" y="318.97" width="17.93" height="8.97" fill="#929292"/><rect x="337.41" y="318.97" width="17.93" height="8.97" fill="#a8a8a8"/><rect x="355.34" y="318.97" width="26.90" height="8.97" fill="#d3d3d3"/><rect x="382.24" y="318.97" width="98.64" height="8.97" fill="#bebebe"/><rect x="480.88" y="318.97" width="116.57" height="8.97" fill="#a8a8a8"/><rect x="597.45" y="318.97" width="44.84" height="8.97" fill="#bebebe"/><rect x="642.29" y="318.97" width="8.97" height="8.97" fill="#a8a8a8"/><rect x="651.25" y="318.97" width="17.93" height="8.97" fill="#929292"/><rect x="669.19" y="318.97" width="8.97" height="8.97" fill="#7c7c7c"/><rect x="678.15" y="318.97" width="8.97" height="8.97" fill="#666666"/><rect x="687.12" y="318.97" width="8.97" height="8.97" fill="#505050"/><rect x="696.09" y="318.97" width="8.97" height="8.97" fill="#3b3b3b"/><rect x="705.06" y="318.97" width="35.87" height="8.97" fill="#252525"/><rect x="740.92" y="318.97" width="8.97" height="8.97" fill="#0f0f0f"/><rect x="749.89" y="318.97" width="8.97" height="8.97" fill="#252525"/><rect x="758.86" y="318.97" width="26.90" height="8.97" fill="#0f0f0f"/><rect x="785.76" y="318.97" width="26.90" height="8.97" fill="#252525"/><rect x="812.66" y="318.97" width="17.93" height="8.97" fill="#0f0f0f"/><rect x="830.59" y="318.97" width="13.81" height="8.97" fill="#252525"/><rect x="117.50" y="327.94" width="4.70" height="8.97" fill="#7c7c7c"/><rect x="122.20" y="327.94" width="44.83" height="8.97" fill="#929292"/><rect x="167.03" y="327.94" width="26.90" height="8.97" fill="#7c7c7c"/><rect x="193.94" y="327.94" width="17.93" height="8.97" fill="#666666"/><rect x="211.87" y="327.94" width="17.93" height="8.97" fill="#7c7c7c"/><rect x="229.80" y="327.94" width="8.97" height="8.97" fill="#666666"/><rect x="238.77" y="327.94" width="8.97" height="8.97" fill="#505050"/><rect x="247.74" y="327.94" width="8.97" height="8.97" fill="#3b3b3b"/><rect x="256.70" y="327.94" width="8.97" height="8.97" fill="#505050"/><rect x="265.67" y="327.94" width="8.97" height="8.97" fill="#666666"/><rect x="274.64" y="327.94" width="8.97" height="8.97" fill="#a8a8a8"/><rect x="283.61" y="327.94" width="17.93" height="8.97" fill="#d3d3d3"/><rect x="301.54" y="327.94" width="8.97" height="8.97" fill="#bebebe"/><rect x="310.51" y="327.94" width="26.90" height="8.97" fill="#a8a8a8"/><rect x="337.41" y="327.94" width="17.93" height="8.97" fill="#bebebe"/><rect x="355.34" y="327.94" width="35.87" height="8.97" fill="#d3d3d3"/><rect x="391.21" y="327.94" width="53.80" height="8.97" fill="#bebebe"/><rect x="445.01" y="327.94" width="152.44" height="8.97" fill="#a8a8a8"/><rect x="597.45" y="327.94" width="53.80" height="8.97" fill="#bebebe"/><rect x="651.25" y="327.94" width="17.93" height="8.97" fill="#a8a8a8"/><rect x="669.19" y="327.94" width="8.97" height="8.97" fill="#929292"/><rect x="678.15" y="327.94" width="8.97" height="8.97" fill="#7c7c7c"/><rect x="687.12" y="327.94" width="8.97" height="8.97" fill="#666666"/><rect x="696.09" y="327.94" width="8.97" height="8.97" fill="#505050"/><rect x="705.06" y="327.94" width="17.93" height="8.97" fill="#3b3b3b"/><rect x="722.99" y="327.94" width="35.87" height="8.97" fill="#252525"/><rect x="758.86" y="327.94" width="17.93" height="8.97" fill="#0f0f0f"/><rect x="776.79" y="327.94" width="26.90" height="8.97" fill="#252525"/><rect x="803.69" y="327.94" width="17.93" height="8.97" fill="#0f0f0f"/><rect x="821.63" y="327.94" width="22.77" height="8.97" fill="#252525"/><rect x="117.50" y="336.91" width="4.70" height="8.97" fill="#7c7c7c"/><rect x="122.20" y="336.91" width="53.80" height="8.97" fill="#929292"/><rect x="176.00" y="336.91" width="53.80" height="8.97" fill="#7c7c7c"/><rect x="229.80" y="336.91" width="35.87" height="8.97" fill="#505050"/><rect x="265.67" y="336.91" width="8.97" height="8.97" fill="#7c7c7c"/><rect x="274.64" y="336.91" width="8.97" height="8.97" fill="#bebebe"/><rect x="283.61" y="336.91" width="98.64" height="8.97" fill="#d3d3d3"/><rect x="382.24" y="336.91" width="62.77" height="8.97" fill="#bebebe"/><rect x="445.01" y="336.91" width="152.44" height="8.97" fill="#a8a8a8"/><rect x="597.45" y="336.91" width="80.70" height="8.97" fill="#bebebe"/><rect x="678.15" y="336.91" width="8.97" height="8.97" fill="#a8a8a8"/><rect x="687.12" y="336.91" width="8.97" height="8.97" fill="#929292"/><rect x="696.09" y="336.91" width="8.97" height="8.97" fill="#7c7c7c"/><rect x="705.06" y="336.91" width="8.97" height="8.97" fill="#505050"/><rect x="714.02" y="336.91" width="35.87" height="8.97" fill="#3b3b3b"/><rect x="749.89" y="336.91" width="44.84" height="8.97" fill="#252525"/><rect x="794.73" y="336.91" width="35.87" height="8.97" fill="#0f0f0f"/><rect x="830.59" y="336.91" width="13.81" height="8.97" fill="#252525"/><rect x="117.50" y="345.88" width="13.67" height="8.97" fill="#666666"/><rect x="131.17" y="345.88" width="8.97" height="8.97" fill="#929292"/><rect x="140.13" y="345.88" width="17.93" height="8.97" fill="#a8a8a8"/><rect x="158.07" y="345.88" width="53.80" height="8.97" fill="#929292"/><rect x="211.87" y="345.88" width="8.97" height="8.97" fill="#7c7c7c"/><rect x="220.84" y="345.88" width="8.97" height="8.97" fill="#666666"/><rect x="229.80" y="345.88" width="26.90" height="8.97" fill="#505050"/><rect x="256.70" y="345.88" width="8.97" height="8.97" fill="#666666"/><rect x="265.67" y="345.88" width="8.97" height="8.97" fill="#7c7c7c"/><rect x="274.64" y="345.88" width="8.97" height="8.97" fill="#a8a8a8"/><rect x="283.61" y="345.88" width="89.67" height="8.97" fill="#d3d3d3"/><rect x="373.28" y="345.88" width="71.74" height="8.97" fill="#bebebe"/><rect x="445.01" y="345.88" width="116.57" height="8.97" fill="#a8a8a8"/><rect x="561.58" y="345.88" width="125.54" height="8.97" fill="#bebebe"/><rect x="687.12" y="345.88" width="8.97" height="8.97" fill="#a8a8a8"/><rect x="696.09" y="345.88" width="8.97" height="8.97" fill="#929292"/><rect x="705.06" y="345.88" width="17.93" height="8.97" fill="#666666"/><rect x="722.99" y="345.88" width="17.93" height="8.97" fill="#505050"/><rect x="740.92" y="345.88" width="8.97" height="8.97" fill="#666666"/><rect x="749.89" y="345.88" width="8.97" height="8.97" fill="#7c7c7c"/><rect x="758.86" y="345.88" width="8.97" height="8.97" fill="#666666"/><rect x="767.82" y="345.88" width="8.97" height="8.97" fill="#505050"/><rect x="776.79" y="345.88" width="8.97" height="8.97" fill="#3b3b3b"/><rect x="785.76" y="345.88" width="35.87" height="8.97" fill="#252525"/><rect x="821.63" y="345.88" width="22.77" height="8.97" fill="#0f0f0f"/><rect x="117.50" y="354.84" width="4.70" height="8.97" fill="#505050"/><rect x="122.20" y="354.84" width="8.97" height="8.97" fill="#666666"/><rect x="131.17" y="354.84" width="8.97" height="8.97" fill="#7c7c7c"/><rect x="140.13" y="354.84" width="62.77" height="8.97" fill="#929292"/><rect x="202.90" y="354.84" width="8.97" height="8.97" fill="#7c7c7c"/><rect x="211.87" y="354.84" width="17.93" height="8.97" fill="#666666"/><rect x="229.80" y="354.84" width="17.93" height="8.97" fill="#505050"/><rect x="247.74" y="354.84" width="26.90" height="8.97" fill="#666666"/><rect x="274.64" y="354.84" width="8.97" height="8.97" fill="#a8a8a8"/><rect x="283.61" y="354.84" width="80.70" height="8.97" fill="#d3d3d3"/><rect x="364.31" y="354.84" width="62.77" height="8.97" fill="#bebebe"/><rect x="427.08" y="354.84" width="134.51" height="8.97" fill="#a8a8a8"/><rect x="561.58" y="354.84" width="125.54" height="8.97" fill="#bebebe"/><rect x="687.12" y="354.84" width="17.93" height="8.97" fill="#a8a8a8"/><rect x="705.06" y="354.84" width="17.93" height="8.97" fill="#929292"/><rect x="722.99" y="354.84" width="26.90" height="8.97" fill="#7c7c7c"/><rect x="749.89" y="354.84" width="8.97" height="8.97" fill="#929292"/><rect x="758.86" y="354.84" width="8.97" height="8.97" fill="#a8a8a8"/><rect x="767.82" y="354.84" width="8.97" height="8.97" fill="#929292"/><rect x="776.79" y="354.84" width="8.97" height="8.97" fill="#666666"/><rect x="785.76" y="354.84" width="26.90" height="8.97" fill="#505050"/><rect x="812.66" y="354.84" width="8.97" height="8.97" fill="#3b3b3b"/><rect x="821.63" y="354.84" width="22.77" height="8.97" fill="#252525"/><rect x="117.50" y="363.81" width="22.63" height="8.97" fill="#666666"/><rect x="140.13" y="363.81" width="17.93" height="8.97" fill="#7c7c7c"/><rect x="158.07" y="363.81" width="26.90" height="8.97" fill="#929292"/><rect x="184.97" y="363.81" width="17.93" height="8.97" fill="#7c7c7c"/><rect x="202.90" y="363.81" width="17.93" height="8.97" fill="#666666"/><rect x="220.84" y="363.81" width="8.97" height="8.97" fill="#505050"/><rect x="229.80" y="363.81" width="35.87" height="8.97" fill="#666666"/><rect x="265.67" y="363.81" width="8.97" height="8.97" fill="#7c7c7c"/><rect x="274.64" y="363.81" width="8.97" height="8.97" fill="#a8a8a8"/><rect x="283.61" y="363.81" width="71.74" height="8.97" fill="#d3d3d3"/><rect x="355.34" y="363.81" width="71.74" height="8.97" fill="#bebebe"/><rect x="427.08" y="363.81" width="134.51" height="8.97" fill="#a8a8a8"/><rect x="561.58" y="363.81" width="152.44" height="8.97" fill="#bebebe"/><rect x="714.02" y="363.81" width="62.77" height="8.97" fill="#a8a8a8"/><rect x="776.79" y="363.81" width="8.97" height="8.97" fill="#929292"/><rect x="785.76" y="363.81" width="8.97" height="8.97" fill="#7c7c7c"/><rect x="794.73" y="363.81" width="8.97" height="8.97" fill="#666666"/><rect x="803.69" y="363.81" width="17.93" height="8.97" fill="#505050"/><rect x="821.63" y="363.81" width="22.77" height="8.97" fill="#3b3b3b"/><rect x="117.50" y="372.78" width="40.57" height="8.97" fill="#666666"/><rect x="158.07" y="372.78" width="26.90" height="8.97" fill="#7c7c7c"/><rect x="184.97" y="372.78" width="80.70" height="8.97" fill="#666666"/><rect x="265.67" y="372.78" width="8.97" height="8.97" fill="#929292"/><rect x="274.64" y="372.78" width="8.97" height="8.97" fill="#bebebe"/><rect x="283.61" y="372.78" width="8.97" height="8.97" fill="#e9e9e9"/><rect x="292.57" y="372.78" width="62.77" height="8.97" fill="#d3d3d3"/><rect x="355.34" y="372.78" width="53.80" height="8.97" fill="#bebebe"/><rect x="409.14" y="372.78" width="152.44" height="8.97" fill="#a8a8a8"/><rect x="561.58" y="372.78" width="143.47" height="8.97" fill="#bebebe"/><rect x="705.06" y="372.78" width="35.87" height="8.97" fill="#d3d3d3"/><rect x="740.92" y="372.78" width="26.90" height="8.97" fill="#bebebe"/><rect x="767.82" y="372.78" width="26.90" height="8.97" fill="#a8a8a8"/><rect x="794.73" y="372.78" width="17.93" height="8.97" fill="#929292"/><rect x="812.66" y="372.78" width="17.93" height="8.97" fill="#7c7c7c"/><rect x="830.59" y="372.78" width="13.81" height="8.97" fill="#666666"/><rect x="117.50" y="381.74" width="40.57" height="8.97" fill="#666666"/><rect x="158.07" y="381.74" width="17.93" height="8.97" fill="#7c7c7c"/><rect x="176.00" y="381.74" width="89.67" height="8.97" fill="#666666"/><rect x="265.67" y="381.74" width="8.97" height="8.97" fill="#929292"/><rect x="274.64" y="381.74" width="8.97" height="8.97" fill="#bebebe"/><rect x="283.61" y="381.74" width="8.97" height="8.97" fill="#e9e9e9"/><rect x="292.57" y="381.74" width="62.77" height="8.97" fill="#d3d3d3"/><rect x="355.34" y="381.74" width="44.83" height="8.97" fill="#bebebe"/><rect x="400.18" y="381.74" width="161.41" height="8.97" fill="#a8a8a8"/><rect x="561.58" y="381.74" width="143.47" height="8.97" fill="#bebebe"/><rect x="705.06" y="381.74" width="53.80" height="8.97" fill="#d3d3d3"/><rect x="758.86" y="381.74" width="44.84" height="8.97" fill="#bebebe"/><rect x="803.69" y="381.74" width="26.90" height="8.97" fill="#a8a8a8"/><rect x="830.59" y="381.74" width="13.81" height="8.97" fill="#929292"/><rect x="117.50" y="390.71" width="40.57" height="8.97" fill="#666666"/><rect x="158.07" y="390.71" width="17.93" height="8.97" fill="#7c7c7c"/><rect x="176.00" y="390.71" width="35.87" height="8.97" fill="#666666"/><rect x="211.87" y="390.71" width="53.80" height="8.97" fill="#7c7c7c"/><rect x="265.67" y="390.71" width="8.97" height="8.97" fill="#929292"/><rect x="274.64" y="390.71" width="8.97" height="8.97" fill="#bebebe"/><rect x="283.61" y="390.71" width="8.97" height="8.97" fill="#fcfcfc"/><rect x="292.57" y="390.71" width="62.77" height="8.97" fill="#d3d3d3"/><rect x="355.34" y="390.71" width="8.97" height="8.97" fill="#bebebe"/><rect x="364.31" y="390.71" width="206.24" height="8.97" fill="#a8a8a8"/><rect x="570.55" y="390.71" width="125.54" height="8.97" fill="#bebebe"/><rect x="696.09" y="390.71" width="107.60" height="8.97" fill="#d3d3d3"/><rect x="803.69" y="390.71" width="17.93" height="8.97" fill="#bebebe"/><rect x="821.63" y="390.71" width="22.77" height="8.97" fill="#a8a8a8"/><rect x="117.50" y="399.68" width="76.44" height="8.97" fill="#7c7c7c"/><rect x="193.94" y="399.68" width="8.97" height="8.97" fill="#666666"/><rect x="202.90" y="399.68" width="35.87" height="8.97" fill="#7c7c7c"/><rect x="238.77" y="399.68" width="8.97" height="8.97" fill="#929292"/><rect x="247.74" y="399.68" width="17.93" height="8.97" fill="#7c7c7c"/><rect x="265.67" y="399.68" width="8.97" height="8.97" fill="#929292"/><rect x="274.64" y="399.68" width="8.97" height="8.97" fill="#bebebe"/><rect x="283.61" y="399.68" width="71.74" height="8.97" fill="#d3d3d3"/><rect x="355.34" y="399.68" width="8.97" height="8.97" fill="#bebebe"/><rect x="364.31" y="399.68" width="206.24" height="8.97" fill="#a8a8a8"/><rect x="570.55" y="399.68" width="125.54" height="8.97" fill="#bebebe"/><rect x="696.09" y="399.68" width="148.31" height="8.97" fill="#d3d3d3"/><rect x="117.50" y="408.64" width="22.63" height="8.97" fill="#a8a8a8"/><rect x="140.13" y="408.64" width="26.90" height="8.97" fill="#929292"/><rect x="167.03" y="408.64" width="35.87" height="8.97" fill="#7c7c7c"/><rect x="202.90" y="408.64" width="8.97" height="8.97" fill="#929292"/><rect x="211.87" y="408.64" width="44.83" height="8.97" fill="#a8a8a8"/><rect x="256.70" y="408.64" width="8.97" height="8.97" fill="#929292"/><rect x="265.67" y="408.64" width="17.93" height="8.97" fill="#a8a8a8"/><rect x="283.61" y="408.64" width="8.97" height="8.97" fill="#bebebe"/><rect x="292.57" y="408.64" width="62.77" height="8.97" fill="#d3d3d3"/><rect x="355.34" y="408.64" width="17.93" height="8.97" fill="#bebebe"/><rect x="373.28" y="408.64" width="35.87" height="8.97" fill="#a8a8a8"/><rect x="409.14" y="408.64" width="17.93" height="8.97" fill="#bebebe"/><rect x="427.08" y="408.64" width="161.41" height="8.97" fill="#a8a8a8"/><rect x="588.48" y="408.64" width="107.60" height="8.97" fill="#bebebe"/><rect x="696.09" y="408.64" width="148.31" height="8.97" fill="#d3d3d3"/><rect x="117.50" y="417.61" width="22.63" height="8.97" fill="#a8a8a8"/><rect x="140.13" y="417.61" width="8.97" height="8.97" fill="#bebebe"/><rect x="149.10" y="417.61" width="17.93" height="8.97" fill="#a8a8a8"/><rect x="167.03" y="417.61" width="35.87" height="8.97" fill="#929292"/><rect x="202.90" y="417.61" width="35.87" height="8.97" fill="#a8a8a8"/><rect x="238.77" y="417.61" width="17.93" height="8.97" fill="#bebebe"/><rect x="256.70" y="417.61" width="35.87" height="8.97" fill="#a8a8a8"/><rect x="292.57" y="417.61" width="8.97" height="8.97" fill="#bebebe"/><rect x="301.54" y="417.61" width="62.77" height="8.97" fill="#d3d3d3"/><rect x="364.31" y="417.61" width="8.97" height="8.97" fill="#bebebe"/><rect x="373.28" y="417.61" width="17.93" height="8.97" fill="#a8a8a8"/><rect x="391.21" y="417.61" width="53.80" height="8.97" fill="#bebebe"/><rect x="445.01" y="417.61" width="152.44" height="8.97" fill="#a8a8a8"/><rect x="597.45" y="417.61" width="98.64" height="8.97" fill="#bebebe"/><rect x="696.09" y="417.61" width="148.31" height="8.97" fill="#d3d3d3"/><rect x="117.50" y="426.58" width="4.70" height="8.97" fill="#d3d3d3"/><rect x="122.20" y="426.58" width="8.97" height="8.97" fill="#bebebe"/><rect x="131.17" y="426.58" width="17.93" height="8.97" fill="#d3d3d3"/><rect x="149.10" y="426.58" width="17.93" height="8.97" fill="#bebebe"/><rect x="167.03" y="426.58" width="71.74" height="8.97" fill="#a8a8a8"/><rect x="238.77" y="426.58" width="17.93" height="8.97" fill="#d3d3d3"/><rect x="256.70" y="426.58" width="35.87" height="8.97" fill="#a8a8a8"/><rect x="292.57" y="426.58" width="8.97" height="8.97" fill="#bebebe"/><rect x="301.54" y="426.58" width="62.77" height="8.97" fill="#d3d3d3"/><rect x="364.31" y="426.58" width="8.97" height="8.97" fill="#bebebe"/><rect x="373.28" y="426.58" width="17.93" height="8.97" fill="#a8a8a8"/><rect x="391.21" y="426.58" width="53.80" height="8.97" fill="#bebebe"/><rect x="445.01" y="426.58" width="17.93" height="8.97" fill="#a8a8a8"/><rect x="462.95" y="426.58" width="17.93" height="8.97" fill="#929292"/><rect x="480.88" y="426.58" width="116.57" height="8.97" fill="#a8a8a8"/><rect x="597.45" y="426.58" width="89.67" height="8.97" fill="#bebebe"/><rect x="687.12" y="426.58" width="157.28" height="8.97" fill="#d3d3d3"/><rect x="117.50" y="435.55" width="85.40" height="8.97" fill="#d3d3d3"/><rect x="202.90" y="435.55" width="17.93" height="8.97" fill="#bebebe"/><rect x="220.84" y="435.55" width="17.93" height="8.97" fill="#d3d3d3"/><rect x="238.77" y="435.55" width="8.97" height="8.97" fill="#e9e9e9"/><rect x="247.74" y="435.55" width="8.97" height="8.97" fill="#d3d3d3"/><rect x="256.70" y="435.55" width="8.97" height="8.97" fill="#bebebe"/><rect x="265.67" y="435.55" width="26.90" height="8.97" fill="#a8a8a8"/><rect x="292.57" y="435.55" width="71.74" height="8.97" fill="#d3d3d3"/><rect x="364.31" y="435.55" width="35.87" height="8.97" fill="#bebebe"/><rect x="400.18" y="435.55" width="8.97" height="8.97" fill="#d3d3d3"/><rect x="409.14" y="435.55" width="26.90" height="8.97" fill="#bebebe"/><rect x="436.05" y="435.55" width="17.93" height="8.97" fill="#a8a8a8"/><rect x="453.98" y="435.55" width="26.90" height="8.97" fill="#929292"/><rect x="480.88" y="435.55" width="134.50" height="8.97" fill="#a8a8a8"/><rect x="615.38" y="435.55" width="62.77" height="8.97" fill="#bebebe"/><rect x="678.15" y="435.55" width="166.25" height="8.97" fill="#d3d3d3"/><rect x="117.50" y="444.51" width="4.70" height="8.97" fill="#e9e9e9"/><rect x="122.20" y="444.51" width="17.93" height="8.97" fill="#d3d3d3"/><rect x="140.13" y="444.51" width="26.90" height="8.97" fill="#e9e9e9"/><rect x="167.03" y="444.51" width="26.90" height="8.97" fill="#fcfcfc"/><rect x="193.94" y="444.51" width="17.93" height="8.97" fill="#e9e9e9"/><rect x="211.87" y="444.51" width="8.97" height="8.97" fill="#d3d3d3"/><rect x="220.84" y="444.51" width="26.90" height="8.97" fill="#fcfcfc"/><rect x="247.74" y="444.51" width="8.97" height="8.97" fill="#e9e9e9"/><rect x="256.70" y="444.51" width="8.97" height="8.97" fill="#d3d3d3"/><rect x="265.67" y="444.51" width="26.90" height="8.97" fill="#bebebe"/><rect x="292.57" y="444.51" width="71.74" height="8.97" fill="#d3d3d3"/><rect x="364.31" y="444.51" width="17.93" height="8.97" fill="#bebebe"/><rect x="382.24" y="444.51" width="26.90" height="8.97" fill="#d3d3d3"/><rect x="409.14" y="444.51" width="17.93" height="8.97" fill="#bebebe"/><rect x="427.08" y="444.51" width="17.93" height="8.97" fill="#a8a8a8"/><rect x="445.01" y="444.51" width="26.90" height="8.97" fill="#929292"/><rect x="471.91" y="444.51" width="161.41" height="8.97" fill="#a8a8a8"/><rect x="633.32" y="444.51" width="17.93" height="8.97" fill="#bebebe"/><rect x="651.25" y="444.51" width="17.93" height="8.97" fill="#a8a8a8"/><rect x="669.19" y="444.51" width="89.67" height="8.97" fill="#bebebe"/><rect x="758.86" y="444.51" width="85.54" height="8.97" fill="#d3d3d3"/><rect x="117.50" y="453.48" width="157.14" height="8.97" fill="#fcfcfc"/><rect x="274.64" y="453.48" width="134.50" height="8.97" fill="#d3d3d3"/><rect x="409.14" y="453.48" width="8.97" height="8.97" fill="#bebebe"/><rect x="418.11" y="453.48" width="26.90" height="8.97" fill="#a8a8a8"/><rect x="445.01" y="453.48" width="26.90" height="8.97" fill="#929292"/><rect x="471.91" y="453.48" width="277.98" height="8.97" fill="#a8a8a8"/><rect x="749.89" y="453.48" width="94.51" height="8.97" fill="#bebebe"/><rect x="117.50" y="462.45" width="157.14" height="8.97" fill="#fcfcfc"/><rect x="274.64" y="462.45" width="53.80" height="8.97" fill="#e9e9e9"/><rect x="328.44" y="462.45" width="80.70" height="8.97" fill="#d3d3d3"/><rect x="409.14" y="462.45" width="8.97" height="8.97" fill="#bebebe"/><rect x="418.11" y="462.45" width="26.90" height="8.97" fill="#a8a8a8"/><rect x="445.01" y="462.45" width="17.93" height="8.97" fill="#929292"/><rect x="462.95" y="462.45" width="295.91" height="8.97" fill="#a8a8a8"/><rect x="758.86" y="462.45" width="26.90" height="8.97" fill="#bebebe"/><rect x="785.76" y="462.45" width="53.80" height="8.97" fill="#a8a8a8"/><rect x="839.56" y="462.45" width="4.84" height="8.97" fill="#bebebe"/><rect x="117.50" y="471.41" width="157.14" height="8.97" fill="#fcfcfc"/><rect x="274.64" y="471.41" width="53.80" height="8.97" fill="#e9e9e9"/><rect x="328.44" y="471.41" width="44.83" height="8.97" fill="#d3d3d3"/><rect x="373.28" y="471.41" width="17.93" height="8.97" fill="#e9e9e9"/><rect x="391.21" y="471.41" width="17.93" height="8.97" fill="#d3d3d3"/><rect x="409.14" y="471.41" width="8.97" height="8.97" fill="#bebebe"/><rect x="418.11" y="471.41" width="26.90" height="8.97" fill="#a8a8a8"/><rect x="445.01" y="471.41" width="8.97" height="8.97" fill="#929292"/><rect x="453.98" y="471.41" width="385.58" height="8.97" fill="#a8a8a8"/><rect x="839.56" y="471.41" width="4.84" height="8.97" fill="#bebebe"/><rect x="117.50" y="480.38" width="166.11" height="8.97" fill="#fcfcfc"/><rect x="283.61" y="480.38" width="44.84" height="8.97" fill="#e9e9e9"/><rect x="328.44" y="480.38" width="8.97" height="8.97" fill="#fcfcfc"/><rect x="337.41" y="480.38" width="8.97" height="8.97" fill="#e9e9e9"/><rect x="346.38" y="480.38" width="8.97" height="8.97" fill="#d3d3d3"/><rect x="355.34" y="480.38" width="26.90" height="8.97" fill="#e9e9e9"/><rect x="382.24" y="480.38" width="26.90" height="8.97" fill="#d3d3d3"/><rect x="409.14" y="480.38" width="17.93" height="8.97" fill="#bebebe"/><rect x="427.08" y="480.38" width="358.68" height="8.97" fill="#a8a8a8"/><rect x="785.76" y="480.38" width="8.97" height="8.97" fill="#929292"/><rect x="794.73" y="480.38" width="35.87" height="8.97" fill="#a8a8a8"/><rect x="830.59" y="480.38" width="13.81" height="8.97" fill="#bebebe"/><rect x="117.50" y="489.35" width="184.04" height="8.97" fill="#fcfcfc"/><rect x="301.54" y="489.35" width="8.97" height="8.97" fill="#e9e9e9"/><rect x="310.51" y="489.35" width="71.74" height="8.97" fill="#d3d3d3"/><rect x="382.24" y="489.35" width="8.97" height="8.97" fill="#e9e9e9"/><rect x="391.21" y="489.35" width="26.90" height="8.97" fill="#d3d3d3"/><rect x="418.11" y="489.35" width="26.90" height="8.97" fill="#bebebe"/><rect x="445.01" y="489.35" width="17.93" height="8.97" fill="#a8a8a8"/><rect x="462.95" y="489.35" width="8.97" height="8.97" fill="#bebebe"/><rect x="471.91" y="489.35" width="116.57" height="8.97" fill="#a8a8a8"/><rect x="588.48" y="489.35" width="17.93" height="8.97" fill="#929292"/><rect x="606.42" y="489.35" width="80.70" height="8.97" fill="#a8a8a8"/><rect x="687.12" y="489.35" width="35.87" height="8.97" fill="#929292"/><rect x="722.99" y="489.35" width="8.97" height="8.97" fill="#a8a8a8"/><rect x="731.96" y="489.35" width="62.77" height="8.97" fill="#929292"/><rect x="794.73" y="489.35" width="26.90" height="8.97" fill="#a8a8a8"/><rect x="821.63" y="489.35" width="22.77" height="8.97" fill="#bebebe"/><rect x="117.50" y="498.31" width="184.04" height="8.97" fill="#fcfcfc"/><rect x="301.54" y="498.31" width="8.97" height="8.97" fill="#e9e9e9"/><rect x="310.51" y="498.31" width="71.74" height="8.97" fill="#d3d3d3"/><rect x="382.24" y="498.31" width="17.93" height="8.97" fill="#e9e9e9"/><rect x="400.18" y="498.31" width="26.90" height="8.97" fill="#d3d3d3"/><rect x="427.08" y="498.31" width="44.83" height="8.97" fill="#bebebe"/><rect x="471.91" y="498.31" width="179.34" height="8.97" fill="#a8a8a8"/><rect x="651.25" y="498.31" width="26.90" height="8.97" fill="#929292"/><rect x="678.15" y="498.31" width="8.97" height="8.97" fill="#a8a8a8"/><rect x="687.12" y="498.31" width="53.80" height="8.97" fill="#929292"/><rect x="740.92" y="498.31" width="26.90" height="8.97" fill="#7c7c7c"/><rect x="767.82" y="498.31" width="26.90" height="8.97" fill="#929292"/><rect x="794.73" y="498.31" width="35.87" height="8.97" fill="#a8a8a8"/><rect x="830.59" y="498.31" width="13.81" height="8.97" fill="#bebebe"/><rect x="117.50" y="507.28" width="193.01" height="8.97" fill="#fcfcfc"/><rect x="310.51" y="507.28" width="17.93" height="8.97" fill="#d3d3d3"/><rect x="328.44" y="507.28" width="17.93" height="8.97" fill="#bebebe"/><rect x="346.38" y="507.28" width="98.64" height="8.97" fill="#d3d3d3"/><rect x="445.01" y="507.28" width="17.93" height="8.97" fill="#bebebe"/><rect x="462.95" y="507.28" width="35.87" height="8.97" fill="#a8a8a8"/><rect x="498.81" y="507.28" width="26.90" height="8.97" fill="#929292"/><rect x="525.72" y="507.28" width="116.57" height="8.97" fill="#a8a8a8"/><rect x="642.29" y="507.28" width="89.67" height="8.97" fill="#929292"/><rect x="731.96" y="507.28" width="35.87" height="8.97" fill="#7c7c7c"/><rect x="767.82" y="507.28" width="26.90" height="8.97" fill="#929292"/><rect x="794.73" y="507.28" width="35.87" height="8.97" fill="#a8a8a8"/><rect x="830.59" y="507.28" width="8.97" height="8.97" fill="#bebebe"/><rect x="839.56" y="507.28" width="4.84" height="8.97" fill="#d3d3d3"/><rect x="117.50" y="516.25" width="201.97" height="8.97" fill="#fcfcfc"/><rect x="319.47" y="516.25" width="134.50" height="8.97" fill="#d3d3d3"/><rect x="453.98" y="516.25" width="8.97" height="8.97" fill="#bebebe"/><rect x="462.95" y="516.25" width="35.87" height="8.97" fill="#a8a8a8"/><rect x="498.81" y="516.25" width="35.87" height="8.97" fill="#929292"/><rect x="534.68" y="516.25" width="107.60" height="8.97" fill="#a8a8a8"/><rect x="642.29" y="516.25" width="26.90" height="8.97" fill="#929292"/><rect x="669.19" y="516.25" width="17.93" height="8.97" fill="#7c7c7c"/><rect x="687.12" y="516.25" width="17.93" height="8.97" fill="#929292"/><rect x="705.06" y="516.25" width="17.93" height="8.97" fill="#a8a8a8"/><rect x="722.99" y="516.25" width="8.97" height="8.97" fill="#929292"/><rect x="731.96" y="516.25" width="8.97" height="8.97" fill="#7c7c7c"/><rect x="740.92" y="516.25" width="44.83" height="8.97" fill="#929292"/><rect x="785.76" y="516.25" width="35.87" height="8.97" fill="#a8a8a8"/><rect x="821.63" y="516.25" width="17.93" height="8.97" fill="#bebebe"/><rect x="839.56" y="516.25" width="4.84" height="8.97" fill="#d3d3d3"/><rect x="117.50" y="525.22" width="228.88" height="8.97" fill="#fcfcfc"/><rect x="346.38" y="525.22" width="8.97" height="8.97" fill="#e9e9e9"/><rect x="355.34" y="525.22" width="17.93" height="8.97" fill="#d3d3d3"/><rect x="373.28" y="525.22" width="26.90" height="8.97" fill="#bebebe"/><rect x="400.18" y="525.22" width="53.80" height="8.97" fill="#d3d3d3"/><rect x="453.98" y="525.22" width="8.97" height="8.97" fill="#bebebe"/><rect x="462.95" y="525.22" width="44.83" height="8.97" fill="#a8a8a8"/><rect x="507.78" y="525.22" width="8.97" height="8.97" fill="#929292"/><rect x="516.75" y="525.22" width="71.74" height="8.97" fill="#a8a8a8"/><rect x="588.48" y="525.22" width="53.80" height="8.97" fill="#929292"/><rect x="642.29" y="525.22" width="8.97" height="8.97" fill="#a8a8a8"/><rect x="651.25" y="525.22" width="17.93" height="8.97" fill="#929292"/><rect x="669.19" y="525.22" width="17.93" height="8.97" fill="#7c7c7c"/><rect x="687.12" y="525.22" width="8.97" height="8.97" fill="#929292"/><rect x="696.09" y="525.22" width="35.87" height="8.97" fill="#a8a8a8"/><rect x="731.96" y="525.22" width="8.97" height="8.97" fill="#929292"/><rect x="740.92" y="525.22" width="80.70" height="8.97" fill="#a8a8a8"/><rect x="821.63" y="525.22" width="17.93" height="8.97" fill="#bebebe"/><rect x="839.56" y="525.22" width="4.84" height="8.97" fill="#d3d3d3"/><rect x="117.50" y="534.18" width="201.97" height="8.97" fill="#fcfcfc"/><rect x="319.47" y="534.18" width="8.97" height="8.97" fill="#e9e9e9"/><rect x="328.44" y="534.18" width="35.87" height="8.97" fill="#d3d3d3"/><rect x="364.31" y="534.18" width="35.87" height="8.97" fill="#bebebe"/><rect x="400.18" y="534.18" width="8.97" height="8.97" fill="#d3d3d3"/><rect x="409.14" y="534.18" width="17.93" height="8.97" fill="#e9e9e9"/><rect x="427.08" y="534.18" width="35.87" height="8.97" fill="#d3d3d3"/><rect x="462.95" y="534.18" width="116.57" height="8.97" fill="#a8a8a8"/><rect x="579.52" y="534.18" width="17.93" height="8.97" fill="#929292"/><rect x="597.45" y="534.18" width="17.93" height="8.97" fill="#7c7c7c"/><rect x="615.38" y="534.18" width="17.93" height="8.97" fill="#929292"/><rect x="633.32" y="534.18" width="17.93" height="8.97" fill="#a8a8a8"/><rect x="651.25" y="534.18" width="26.90" height="8.97" fill="#929292"/><rect x="678.15" y="534.18" width="152.44" height="8.97" fill="#a8a8a8"/><rect x="830.59" y="534.18" width="8.97" height="8.97" fill="#bebebe"/><rect x="839.56" y="534.18" width="4.84" height="8.97" fill="#d3d3d3"/><rect x="117.50" y="543.15" width="201.97" height="8.97" fill="#fcfcfc"/><rect x="319.47" y="543.15" width="8.97" height="8.97" fill="#e9e9e9"/><rect x="328.44" y="543.15" width="26.90" height="8.97" fill="#d3d3d3"/><rect x="355.34" y="543.15" width="44.83" height="8.97" fill="#bebebe"/><rect x="400.18" y="543.15" width="17.93" height="8.97" fill="#d3d3d3"/><rect x="418.11" y="543.15" width="17.93" height="8.97" fill="#e9e9e9"/><rect x="436.05" y="543.15" width="17.93" height="8.97" fill="#d3d3d3"/><rect x="453.98" y="543.15" width="107.60" height="8.97" fill="#a8a8a8"/><rect x="561.58" y="543.15" width="26.90" height="8.97" fill="#929292"/><rect x="588.48" y="543.15" width="8.97" height="8.97" fill="#7c7c7c"/><rect x="597.45" y="543.15" width="35.87" height="8.97" fill="#929292"/><rect x="633.32" y="543.15" width="17.93" height="8.97" fill="#a8a8a8"/><rect x="651.25" y="543.15" width="17.93" height="8.97" fill="#929292"/><rect x="669.19" y="543.15" width="143.47" height="8.97" fill="#a8a8a8"/><rect x="812.66" y="543.15" width="8.97" height="8.97" fill="#929292"/><rect x="821.63" y="543.15" width="8.97" height="8.97" fill="#a8a8a8"/><rect x="830.59" y="543.15" width="8.97" height="8.97" fill="#bebebe"/><rect x="839.56" y="543.15" width="4.84" height="8.97" fill="#d3d3d3"/><rect x="117.50" y="552.12" width="210.94" height="8.97" fill="#fcfcfc"/><rect x="328.44" y="552.12" width="8.97" height="8.97" fill="#e9e9e9"/><rect x="337.41" y="552.12" width="26.90" height="8.97" fill="#d3d3d3"/><rect x="364.31" y="552.12" width="35.87" height="8.97" fill="#bebebe"/><rect x="400.18" y="552.12" width="17.93" height="8.97" fill="#d3d3d3"/><rect x="418.11" y="552.12" width="17.93" height="8.97" fill="#e9e9e9"/><rect x="436.05" y="552.12" width="8.97" height="8.97" fill="#d3d3d3"/><rect x="445.01" y="552.12" width="8.97" height="8.97" fill="#bebebe"/><rect x="453.98" y="552.12" width="98.64" height="8.97" fill="#a8a8a8"/><rect x="552.62" y="552.12" width="53.80" height="8.97" fill="#929292"/><rect x="606.42" y="552.12" width="53.80" height="8.97" fill="#a8a8a8"/><rect x="660.22" y="552.12" width="8.97" height="8.97" fill="#929292"/><rect x="669.19" y="552.12" width="125.54" height="8.97" fill="#a8a8a8"/><rect x="794.73" y="552.12" width="8.97" height="8.97" fill="#929292"/><rect x="803.69" y="552.12" width="26.90" height="8.97" fill="#a8a8a8"/><rect x="830.59" y="552.12" width="8.97" height="8.97" fill="#bebebe"/><rect x="839.56" y="552.12" width="4.84" height="8.97" fill="#d3d3d3"/><rect x="117.50" y="561.08" width="219.91" height="8.97" fill="#fcfcfc"/><rect x="337.41" y="561.08" width="8.97" height="8.97" fill="#e9e9e9"/><rect x="346.38" y="561.08" width="17.93" height="8.97" fill="#d3d3d3"/><rect x="364.31" y="561.08" width="35.87" height="8.97" fill="#bebebe"/><rect x="400.18" y="561.08" width="17.93" height="8.97" fill="#d3d3d3"/><rect x="418.11" y="561.08" width="17.93" height="8.97" fill="#e9e9e9"/><rect x="436.05" y="561.08" width="8.97" height="8.97" fill="#d3d3d3"/><rect x="445.01" y="561.08" width="8.97" height="8.97" fill="#bebebe"/><rect x="453.98" y="561.08" width="98.64" height="8.97" fill="#a8a8a8"/><rect x="552.62" y="561.08" width="26.90" height="8.97" fill="#929292"/><rect x="579.52" y="561.08" width="161.41" height="8.97" fill="#a8a8a8"/><rect x="740.92" y="561.08" width="8.97" height="8.97" fill="#bebebe"/><rect x="749.89" y="561.08" width="26.90" height="8.97" fill="#a8a8a8"/><rect x="776.79" y="561.08" width="8.97" height="8.97" fill="#bebebe"/><rect x="785.76" y="561.08" width="35.87" height="8.97" fill="#a8a8a8"/><rect x="821.63" y="561.08" width="8.97" height="8.97" fill="#bebebe"/><rect x="830.59" y="561.08" width="8.97" height="8.97" fill="#d3d3d3"/><rect x="839.56" y="561.08" width="4.84" height="8.97" fill="#e9e9e9"/><rect x="117.50" y="570.05" width="228.88" height="8.97" fill="#fcfcfc"/><rect x="346.38" y="570.05" width="8.97" height="8.97" fill="#e9e9e9"/><rect x="355.34" y="570.05" width="8.97" height="8.97" fill="#d3d3d3"/><rect x="364.31" y="570.05" width="26.90" height="8.97" fill="#bebebe"/><rect x="391.21" y="570.05" width="17.93" height="8.97" fill="#d3d3d3"/><rect x="409.14" y="570.05" width="8.97" height="8.97" fill="#e9e9e9"/><rect x="418.11" y="570.05" width="8.97" height="8.97" fill="#fcfcfc"/><rect x="427.08" y="570.05" width="8.97" height="8.97" fill="#e9e9e9"/><rect x="436.05" y="570.05" width="17.93" height="8.97" fill="#d3d3d3"/><rect x="453.98" y="570.05" width="286.94" height="8.97" fill="#a8a8a8"/><rect x="740.92" y="570.05" width="17.93" height="8.97" fill="#bebebe"/><rect x="758.86" y="570.05" width="17.93" height="8.97" fill="#a8a8a8"/><rect x="776.79" y="570.05" width="35.87" height="8.97" fill="#bebebe"/><rect x="812.66" y="570.05" width="17.93" height="8.97" fill="#d3d3d3"/><rect x="830.59" y="570.05" width="8.97" height="8.97" fill="#e9e9e9"/><rect x="839.56" y="570.05" width="4.84" height="8.97" fill="#fcfcfc"/><rect x="117.50" y="579.02" width="237.84" height="8.97" fill="#fcfcfc"/><rect x="355.34" y="579.02" width="44.83" height="8.97" fill="#d3d3d3"/><rect x="400.18" y="579.02" width="26.90" height="8.97" fill="#fcfcfc"/><rect x="427.08" y="579.02" width="8.97" height="8.97" fill="#e9e9e9"/><rect x="436.05" y="579.02" width="8.97" height="8.97" fill="#d3d3d3"/><rect x="445.01" y="579.02" width="8.97" height="8.97" fill="#bebebe"/><rect x="453.98" y="579.02" width="8.97" height="8.97" fill="#a8a8a8"/><rect x="462.95" y="579.02" width="17.93" height="8.97" fill="#929292"/><rect x="480.88" y="579.02" width="251.08" height="8.97" fill="#a8a8a8"/><rect x="731.96" y="579.02" width="26.90" height="8.97" fill="#bebebe"/><rect x="758.86" y="579.02" width="26.90" height="8.97" fill="#a8a8a8"/><rect x="785.76" y="579.02" width="8.97" height="8.97" fill="#bebebe"/><rect x="794.73" y="579.02" width="26.90" height="8.97" fill="#d3d3d3"/><rect x="821.63" y="579.02" width="22.77" height="8.97" fill="#fcfcfc"/><rect x="117.50" y="587.98" width="237.84" height="8.97" fill="#fcfcfc"/><rect x="355.34" y="587.98" width="8.97" height="8.97" fill="#e9e9e9"/><rect x="364.31" y="587.98" width="62.77" height="8.97" fill="#fcfcfc"/><rect x="427.08" y="587.98" width="8.97" height="8.97" fill="#e9e9e9"/><rect x="436.05" y="587.98" width="8.97" height="8.97" fill="#d3d3d3"/><rect x="445.01" y="587.98" width="8.97" height="8.97" fill="#a8a8a8"/><rect x="453.98" y="587.98" width="26.90" height="8.97" fill="#929292"/><rect x="480.88" y="587.98" width="35.87" height="8.97" fill="#a8a8a8"/><rect x="516.75" y="587.98" width="8.97" height="8.97" fill="#929292"/><rect x="525.72" y="587.98" width="206.24" height="8.97" fill="#a8a8a8"/><rect x="731.96" y="587.98" width="8.97" height="8.97" fill="#bebebe"/><rect x="740.92" y="587.98" width="44.83" height="8.97" fill="#a8a8a8"/><rect x="785.76" y="587.98" width="8.97" height="8.97" fill="#bebebe"/><rect x="794.73" y="587.98" width="26.90" height="8.97" fill="#d3d3d3"/><rect x="821.63" y="587.98" width="17.93" height="8.97" fill="#e9e9e9"/><rect x="839.56" y="587.98" width="4.84" height="8.97" fill="#fcfcfc"/><rect x="117.50" y="596.95" width="309.58" height="8.97" fill="#fcfcfc"/><rect x="427.08" y="596.95" width="8.97" height="8.97" fill="#d3d3d3"/><rect x="436.05" y="596.95" width="8.97" height="8.97" fill="#bebebe"/><rect x="445.01" y="596.95" width="8.97" height="8.97" fill="#a8a8a8"/><rect x="453.98" y="596.95" width="98.64" height="8.97" fill="#929292"/><rect x="552.62" y="596.95" width="116.57" height="8.97" fill="#a8a8a8"/><rect x="669.19" y="596.95" width="26.90" height="8.97" fill="#929292"/><rect x="696.09" y="596.95" width="26.90" height="8.97" fill="#a8a8a8"/><rect x="722.99" y="596.95" width="8.97" height="8.97" fill="#bebebe"/><rect x="731.96" y="596.95" width="17.93" height="8.97" fill="#a8a8a8"/><rect x="749.89" y="596.95" width="17.93" height="8.97" fill="#929292"/><rect x="767.82" y="596.95" width="8.97" height="8.97" fill="#a8a8a8"/><rect x="776.79" y="596.95" width="17.93" height="8.97" fill="#bebebe"/><rect x="794.73" y="596.95" width="26.90" height="8.97" fill="#d3d3d3"/><rect x="821.63" y="596.95" width="8.97" height="8.97" fill="#e9e9e9"/><rect x="830.59" y="596.95" width="13.81" height="8.97" fill="#fcfcfc"/><rect x="117.50" y="605.92" width="309.58" height="4.38" fill="#fcfcfc"/><rect x="427.08" y="605.92" width="8.97" height="4.38" fill="#d3d3d3"/><rect x="436.05" y="605.92" width="8.97" height="4.38" fill="#bebebe"/><rect x="445.01" y="605.92" width="8.97" height="4.38" fill="#a8a8a8"/><rect x="453.98" y="605.92" width="107.60" height="4.38" fill="#929292"/><rect x="561.58" y="605.92" width="62.77" height="4.38" fill="#a8a8a8"/><rect x="624.35" y="605.92" width="8.97" height="4.38" fill="#bebebe"/><rect x="633.32" y="605.92" width="26.90" height="4.38" fill="#a8a8a8"/><rect x="660.22" y="605.92" width="35.87" height="4.38" fill="#929292"/><rect x="696.09" y="605.92" width="44.84" height="4.38" fill="#a8a8a8"/><rect x="740.92" y="605.92" width="17.93" height="4.38" fill="#929292"/><rect x="758.86" y="605.92" width="17.93" height="4.38" fill="#a8a8a8"/><rect x="776.79" y="605.92" width="8.97" height="4.38" fill="#bebebe"/><rect x="785.76" y="605.92" width="17.93" height="4.38" fill="#d3d3d3"/><rect x="803.69" y="605.92" width="17.93" height="4.38" fill="#e9e9e9"/><rect x="821.63" y="605.92" width="22.77" height="4.38" fill="#fcfcfc"/></g>
<g stroke="#c8c8c8" stroke-width="1.3" stroke-opacity="0.2" shape-rendering="auto"><line x1="207.6" y1="116.7" x2="207.6" y2="610.3"/><line x1="351.6" y1="116.7" x2="351.6" y2="610.3"/><line x1="495.6" y1="116.7" x2="495.6" y2="610.3"/><line x1="639.6" y1="116.7" x2="639.6" y2="610.3"/><line x1="783.6" y1="116.7" x2="783.6" y2="610.3"/><line x1="117.5" y1="608.1" x2="844.4" y2="608.1"/><line x1="117.5" y1="452.2" x2="844.4" y2="452.2"/><line x1="117.5" y1="289.7" x2="844.4" y2="289.7"/><line x1="117.5" y1="118.9" x2="844.4" y2="118.9"/></g>
<g fill="none" stroke="#808080" stroke-width="0.7" shape-rendering="auto"><path d="M117.5,449.6 L125.1,446.4 L128.7,448.1 L136.7,444.2 L149.7,444.5 L162.7,445.2 L168.5,440.2 L181.5,440.2 L187.3,443.8 L193.8,444.5 L196.2,447.4 L200.3,441.6 L207.5,442.3 L213.3,443.5 L220.5,440.2 L229.2,439.5 L239.3,438.7 L244.2,438.5 L250.5,440.3 L255.3,444.5 L256.9,449.3 L260.0,456.0 L265.0,462.0 L270.6,467.2 L271.6,470.4 L274.8,477.7 L279.6,486.2 L281.7,488.8 L288.5,489.9 L295.9,491.5 L298.0,497.3 L301.2,497.8 L305.4,504.1 L311.7,511.5 L318.8,518.4 L325.8,520.9 L337.0,521.5 L348.2,519.1 L355.2,516.3 L358.7,512.1 L360.8,511.4 L362.0,514.2 L359.4,521.2 L353.8,528.2 L345.4,533.1 L337.0,534.5 L328.6,535.9 L323.0,533.5 L320.9,535.9 L321.6,540.8 L325.8,546.4 L337.0,557.6 L345.4,567.4 L353.8,575.8 L360.8,582.1 L365.0,583.5 L373.8,584.2 L382.2,583.5 L392.0,578.6 L403.2,573.0 L408.8,567.4 L411.6,559.0 L413.0,545.0 L413.3,534.5 L416.5,537.3 L424.2,537.3 L432.6,538.0 L428.4,541.5 L423.5,541.5 L421.4,547.8 L422.8,550.6 L426.3,558.3 L424.2,564.6 L424.0,571.6 L427.0,578.6 L429.8,587.0 L430.5,595.4 L429.1,603.8 L427.0,610.3"/><path d="M844.4,564.6 L839.0,567.4 L837.6,574.4 L839.0,581.4 L840.4,587.0 L836.2,592.6 L830.6,599.6 L825.0,606.6 L820.8,610.3"/></g>
<g shape-rendering="auto"><circle cx="604.0" cy="277.0" r="2.6" fill="#ffa500"/><circle cx="604.7" cy="279.7" r="2.6" fill="#ffa500"/><circle cx="605.3" cy="282.3" r="2.6" fill="#ffa500"/><circle cx="606.0" cy="285.0" r="2.6" fill="#ffa500"/><circle cx="605.8" cy="287.5" r="2.6" fill="#ffa500"/><circle cx="605.5" cy="290.0" r="2.6" fill="#ffa500"/><circle cx="605.2" cy="292.5" r="2.6" fill="#ffa500"/><circle cx="605.0" cy="295.0" r="2.6" fill="#ffa500"/><circle cx="605.0" cy="297.5" r="2.6" fill="#ffa500"/><circle cx="605.0" cy="300.0" r="2.6" fill="#ffa500"/><circle cx="605.0" cy="302.5" r="2.6" fill="#ffa500"/><circle cx="605.0" cy="305.0" r="2.6" fill="#ffa500"/><circle cx="605.0" cy="307.6" r="2.6" fill="#ffa500"/><circle cx="605.0" cy="310.2" r="2.6" fill="#ffa500"/><circle cx="605.0" cy="312.8" r="2.6" fill="#ffa500"/><circle cx="605.0" cy="315.4" r="2.6" fill="#ffa500"/><circle cx="605.0" cy="318.0" r="2.6" fill="#ffa500"/><circle cx="593.0" cy="290.0" r="2.6" fill="#ffa500"/><circle cx="593.0" cy="292.5" r="2.6" fill="#ffa500"/><circle cx="593.0" cy="295.0" r="2.6" fill="#ffa500"/><circle cx="593.0" cy="297.5" r="2.6" fill="#ffa500"/><circle cx="593.0" cy="300.0" r="2.6" fill="#ffa500"/><circle cx="592.8" cy="302.5" r="2.6" fill="#ffa500"/><circle cx="592.5" cy="305.0" r="2.6" fill="#ffa500"/><circle cx="592.2" cy="307.5" r="2.6" fill="#ffa500"/><circle cx="592.0" cy="310.0" r="2.6" fill="#ffa500"/><circle cx="592.5" cy="312.5" r="2.6" fill="#ffa500"/><circle cx="593.0" cy="315.0" r="2.6" fill="#ffa500"/><circle cx="593.5" cy="317.5" r="2.6" fill="#ffa500"/><circle cx="594.0" cy="320.0" r="2.6" fill="#ffa500"/><circle cx="606.0" cy="276.0" r="2.6" fill="#ffa500"/><circle cx="608.7" cy="276.0" r="2.6" fill="#ffa500"/><circle cx="611.3" cy="276.0" r="2.6" fill="#ffa500"/><circle cx="614.0" cy="276.0" r="2.6" fill="#ffa500"/><circle cx="616.5" cy="277.5" r="2.6" fill="#ffa500"/><circle cx="619.0" cy="279.0" r="2.6" fill="#ffa500"/><circle cx="620.5" cy="281.5" r="2.6" fill="#ffa500"/><circle cx="622.0" cy="284.0" r="2.6" fill="#ffa500"/><circle cx="622.5" cy="287.0" r="2.6" fill="#ffa500"/><circle cx="623.0" cy="290.0" r="2.6" fill="#ffa500"/><circle cx="621.0" cy="291.0" r="2.6" fill="#ffa500"/><circle cx="619.0" cy="292.0" r="2.6" fill="#ffa500"/><circle cx="624.0" cy="287.0" r="2.6" fill="#ffa500"/><circle cx="626.3" cy="286.7" r="2.6" fill="#ffa500"/><circle cx="628.7" cy="286.3" r="2.6" fill="#ffa500"/><circle cx="631.0" cy="286.0" r="2.6" fill="#ffa500"/><circle cx="633.5" cy="287.5" r="2.6" fill="#ffa500"/><circle cx="636.0" cy="289.0" r="2.6" fill="#ffa500"/><circle cx="635.3" cy="291.7" r="2.6" fill="#ffa500"/><circle cx="634.7" cy="294.3" r="2.6" fill="#ffa500"/><circle cx="634.0" cy="297.0" r="2.6" fill="#ffa500"/><circle cx="631.3" cy="297.3" r="2.6" fill="#ffa500"/><circle cx="628.7" cy="297.7" r="2.6" fill="#ffa500"/><circle cx="626.0" cy="298.0" r="2.6" fill="#ffa500"/><circle cx="578.0" cy="290.3" r="2.6" fill="#ffa500"/><circle cx="580.9" cy="290.3" r="2.6" fill="#ffa500"/><circle cx="583.9" cy="290.3" r="2.6" fill="#ffa500"/><circle cx="586.8" cy="290.3" r="2.6" fill="#ffa500"/><circle cx="589.7" cy="290.3" r="2.6" fill="#ffa500"/><circle cx="592.3" cy="290.9" r="2.6" fill="#ffa500"/><circle cx="594.9" cy="291.5" r="2.6" fill="#ffa500"/><circle cx="597.4" cy="292.1" r="2.6" fill="#ffa500"/><circle cx="600.0" cy="292.7" r="2.6" fill="#ffa500"/><circle cx="603.0" cy="292.7" r="2.6" fill="#ffa500"/><circle cx="606.0" cy="292.7" r="2.6" fill="#ffa500"/><circle cx="609.0" cy="292.7" r="2.6" fill="#ffa500"/><circle cx="612.0" cy="292.7" r="2.6" fill="#ffa500"/><circle cx="615.0" cy="292.7" r="2.6" fill="#ffa500"/><circle cx="618.0" cy="292.7" r="2.6" fill="#ffa500"/><circle cx="572.0" cy="276.0" r="2.6" fill="#ffa500"/><circle cx="575.0" cy="276.0" r="2.6" fill="#ffa500"/><circle cx="578.0" cy="276.0" r="2.6" fill="#ffa500"/><circle cx="581.0" cy="276.0" r="2.6" fill="#ffa500"/><circle cx="584.0" cy="276.0" r="2.6" fill="#ffa500"/><circle cx="587.0" cy="276.0" r="2.6" fill="#ffa500"/><circle cx="590.0" cy="276.0" r="2.6" fill="#ffa500"/><circle cx="592.7" cy="275.9" r="2.6" fill="#ffa500"/><circle cx="595.3" cy="275.8" r="2.6" fill="#ffa500"/><circle cx="598.0" cy="275.8" r="2.6" fill="#ffa500"/><circle cx="600.7" cy="275.7" r="2.6" fill="#ffa500"/><circle cx="603.3" cy="275.6" r="2.6" fill="#ffa500"/><circle cx="606.0" cy="275.5" r="2.6" fill="#ffa500"/><circle cx="584.0" cy="310.5" r="2.6" fill="#ffa500"/><circle cx="586.7" cy="310.9" r="2.6" fill="#ffa500"/><circle cx="589.3" cy="311.2" r="2.6" fill="#ffa500"/><circle cx="592.0" cy="311.6" r="2.6" fill="#ffa500"/><circle cx="594.7" cy="312.0" r="2.6" fill="#ffa500"/><circle cx="597.3" cy="312.3" r="2.6" fill="#ffa500"/><circle cx="600.0" cy="312.7" r="2.6" fill="#ffa500"/><circle cx="603.0" cy="312.7" r="2.6" fill="#ffa500"/><circle cx="606.0" cy="312.7" r="2.6" fill="#ffa500"/><circle cx="609.0" cy="312.7" r="2.6" fill="#ffa500"/><circle cx="612.0" cy="312.7" r="2.6" fill="#ffa500"/><circle cx="615.0" cy="312.7" r="2.6" fill="#ffa500"/><circle cx="618.0" cy="312.7" r="2.6" fill="#ffa500"/><circle cx="600.0" cy="314.0" r="2.6" fill="#ffa500"/><circle cx="598.3" cy="316.0" r="2.6" fill="#ffa500"/><circle cx="596.6" cy="318.0" r="2.6" fill="#ffa500"/><circle cx="595.0" cy="320.0" r="2.6" fill="#ffa500"/><circle cx="593.3" cy="322.0" r="2.6" fill="#ffa500"/><circle cx="591.1" cy="323.8" r="2.6" fill="#ffa500"/><circle cx="588.9" cy="325.5" r="2.6" fill="#ffa500"/><circle cx="586.7" cy="327.3" r="2.6" fill="#ffa500"/><circle cx="586.0" cy="330.0" r="2.6" fill="#ffa500"/><circle cx="585.3" cy="332.7" r="2.6" fill="#ffa500"/><circle cx="586.6" cy="334.5" r="2.6" fill="#ffa500"/><circle cx="588.0" cy="336.2" r="2.6" fill="#ffa500"/><circle cx="589.3" cy="338.0" r="2.6" fill="#ffa500"/><circle cx="592.0" cy="339.3" r="2.6" fill="#ffa500"/><circle cx="594.6" cy="340.7" r="2.6" fill="#ffa500"/><circle cx="597.3" cy="342.0" r="2.6" fill="#ffa500"/><circle cx="599.6" cy="342.7" r="2.6" fill="#ffa500"/><circle cx="602.0" cy="343.4" r="2.6" fill="#ffa500"/><circle cx="604.4" cy="344.0" r="2.6" fill="#ffa500"/><circle cx="606.7" cy="344.7" r="2.6" fill="#ffa500"/><circle cx="609.4" cy="345.0" r="2.6" fill="#ffa500"/><circle cx="612.0" cy="345.2" r="2.6" fill="#ffa500"/><circle cx="614.7" cy="345.5" r="2.6" fill="#ffa500"/><circle cx="617.3" cy="345.7" r="2.6" fill="#ffa500"/><circle cx="620.0" cy="346.0" r="2.6" fill="#ffa500"/><circle cx="600.0" cy="314.0" r="2.6" fill="#ffa500"/><circle cx="601.3" cy="316.0" r="2.6" fill="#ffa500"/><circle cx="602.7" cy="318.0" r="2.6" fill="#ffa500"/><circle cx="604.0" cy="320.0" r="2.6" fill="#ffa500"/><circle cx="605.3" cy="322.6" r="2.6" fill="#ffa500"/><circle cx="606.5" cy="325.2" r="2.6" fill="#ffa500"/><circle cx="607.8" cy="327.8" r="2.6" fill="#ffa500"/><circle cx="369.6" cy="369.6" r="2.5" fill="#ffa500"/><circle cx="374.7" cy="365.6" r="2.5" fill="#ffa500"/><circle cx="380.3" cy="361.6" r="2.5" fill="#ffa500"/><circle cx="386.4" cy="358.0" r="2.5" fill="#ffa500"/><circle cx="392.7" cy="354.3" r="2.5" fill="#ffa500"/><circle cx="399.3" cy="350.9" r="2.5" fill="#ffa500"/><circle cx="406.0" cy="348.3" r="2.5" fill="#ffa500"/><circle cx="412.3" cy="346.0" r="2.5" fill="#ffa500"/><circle cx="418.0" cy="343.7" r="2.5" fill="#ffa500"/><circle cx="423.3" cy="342.0" r="2.5" fill="#ffa500"/><circle cx="428.0" cy="340.0" r="2.5" fill="#ffa500"/><circle cx="432.2" cy="337.8" r="2.5" fill="#ffa500"/><circle cx="436.1" cy="335.0" r="2.5" fill="#ff0000"/><circle cx="439.4" cy="332.2" r="2.5" fill="#ff0000"/><circle cx="442.8" cy="328.9" r="2.5" fill="#ff0000"/><circle cx="446.1" cy="325.0" r="2.5" fill="#ff0000"/><circle cx="448.9" cy="321.1" r="2.5" fill="#ff0000"/><circle cx="451.7" cy="317.2" r="2.5" fill="#ff0000"/><circle cx="453.9" cy="313.3" r="2.5" fill="#ff0000"/><circle cx="456.7" cy="310.0" r="2.5" fill="#ff0000"/><circle cx="459.4" cy="306.1" r="2.5" fill="#ff0000"/><circle cx="462.8" cy="302.2" r="2.5" fill="#ff0000"/><circle cx="466.1" cy="298.9" r="2.5" fill="#ff0000"/><circle cx="470.0" cy="295.0" r="2.5" fill="#ff0000"/><circle cx="474.4" cy="291.7" r="2.5" fill="#ff0000"/><circle cx="479.1" cy="287.9" r="2.5" fill="#ff0000"/><circle cx="483.6" cy="286.1" r="2.5" fill="#ff0000"/><circle cx="489.8" cy="283.4" r="2.5" fill="#ffa500"/><circle cx="496.0" cy="281.3" r="2.5" fill="#ffa500"/><circle cx="502.2" cy="279.5" r="2.5" fill="#ffa500"/><circle cx="507.6" cy="278.1" r="2.5" fill="#ffa500"/><circle cx="513.8" cy="277.2" r="2.5" fill="#ffa500"/><circle cx="520.0" cy="277.2" r="2.5" fill="#ffa500"/><circle cx="525.3" cy="276.3" r="2.5" fill="#ffa500"/><circle cx="530.5" cy="275.5" r="2.5" fill="#ffa500"/><circle cx="535.1" cy="274.2" r="2.5" fill="#ffa500"/><circle cx="540.4" cy="272.8" r="2.5" fill="#ffa500"/><circle cx="546.7" cy="271.0" r="2.5" fill="#ffa500"/><circle cx="553.8" cy="268.9" r="2.5" fill="#ffa500"/><circle cx="561.8" cy="267.1" r="2.5" fill="#ffa500"/><circle cx="568.0" cy="265.7" r="2.5" fill="#ffa500"/><circle cx="575.1" cy="264.8" r="2.5" fill="#ffa500"/><circle cx="581.3" cy="265.7" r="2.5" fill="#ffa500"/><circle cx="585.8" cy="268.3" r="2.5" fill="#ffa500"/><circle cx="589.3" cy="266.6" r="2.5" fill="#ffff00"/><circle cx="592.9" cy="262.1" r="2.5" fill="#ffff00"/><circle cx="595.5" cy="257.7" r="2.5" fill="#ffff00"/><circle cx="598.7" cy="253.1" r="2.5" fill="#228b22"/><circle cx="601.6" cy="247.3" r="2.5" fill="#228b22"/><circle cx="606.8" cy="240.1" r="2.5" fill="#228b22"/><circle cx="612.5" cy="233.7" r="2.5" fill="#228b22"/><circle cx="618.3" cy="229.1" r="2.5" fill="#228b22"/><circle cx="623.2" cy="226.2" r="2.5" fill="#228b22"/><circle cx="627.0" cy="222.7" r="2.5" fill="#228b22"/><circle cx="631.3" cy="218.4" r="2.5" fill="#228b22"/><circle cx="636.8" cy="212.0" r="2.5" fill="#228b22"/><circle cx="642.9" cy="204.8" r="2.5" fill="#228b22"/><circle cx="649.2" cy="199.0" r="2.5" fill="#228b22"/><circle cx="657.1" cy="192.4" r="2.5" fill="#228b22"/><circle cx="663.7" cy="186.3" r="2.5" fill="#228b22"/><circle cx="670.9" cy="182.3" r="2.5" fill="#228b22"/><circle cx="677.6" cy="178.5" r="2.5" fill="#228b22"/><circle cx="683.9" cy="175.3" r="2.5" fill="#228b22"/><circle cx="689.7" cy="172.1" r="2.5" fill="#228b22"/><circle cx="696.1" cy="168.7" r="2.5" fill="#228b22"/><circle cx="701.8" cy="164.9" r="2.5" fill="#228b22"/><circle cx="708.5" cy="160.6" r="2.5" fill="#228b22"/><circle cx="715.1" cy="155.7" r="2.5" fill="#228b22"/><circle cx="721.8" cy="151.3" r="2.5" fill="#228b22"/><circle cx="728.7" cy="147.6" r="2.5" fill="#228b22"/><circle cx="736.0" cy="144.1" r="2.5" fill="#228b22"/><circle cx="743.1" cy="140.3" r="2.5" fill="#228b22"/><circle cx="750.1" cy="136.8" r="2.5" fill="#000000"/><circle cx="757.8" cy="133.3" r="2.5" fill="#000000"/><circle cx="764.8" cy="129.5" r="2.5" fill="#000000"/><circle cx="771.8" cy="126.3" r="2.5" fill="#000000"/><circle cx="778.8" cy="123.5" r="2.5" fill="#000000"/><circle cx="785.8" cy="121.0" r="2.5" fill="#000000"/><circle cx="792.8" cy="118.6" r="2.5" fill="#000000"/><circle cx="800.5" cy="117.0" r="2.5" fill="#228b22"/><circle cx="384.4" cy="369.3" r="2.5" fill="#ffa500"/><circle cx="390.4" cy="365.6" r="2.5" fill="#ffa500"/><circle cx="396.7" cy="361.6" r="2.5" fill="#ffa500"/><circle cx="403.3" cy="358.3" r="2.5" fill="#ffa500"/><circle cx="410.4" cy="354.9" r="2.5" fill="#ffa500"/><circle cx="417.3" cy="352.4" r="2.5" fill="#ffa500"/><circle cx="424.7" cy="350.3" r="2.5" fill="#ffa500"/><circle cx="431.1" cy="348.0" r="2.5" fill="#ffa500"/><circle cx="437.1" cy="345.7" r="2.5" fill="#ffa500"/><circle cx="442.7" cy="343.3" r="2.5" fill="#ffa500"/><circle cx="447.7" cy="341.3" r="2.5" fill="#ffa500"/><circle cx="452.3" cy="338.9" r="2.5" fill="#ffa500"/><circle cx="456.7" cy="336.1" r="2.5" fill="#ff0000"/><circle cx="460.0" cy="333.3" r="2.5" fill="#ff0000"/><circle cx="462.8" cy="330.0" r="2.5" fill="#ff0000"/><circle cx="465.6" cy="326.7" r="2.5" fill="#ff0000"/><circle cx="468.3" cy="323.3" r="2.5" fill="#ff0000"/><circle cx="471.1" cy="319.4" r="2.5" fill="#ff0000"/><circle cx="473.9" cy="314.4" r="2.5" fill="#ff0000"/><circle cx="476.1" cy="310.6" r="2.5" fill="#ff0000"/><circle cx="479.1" cy="306.6" r="2.5" fill="#ffa500"/><circle cx="482.7" cy="303.0" r="2.5" fill="#ffa500"/><circle cx="488.0" cy="297.7" r="2.5" fill="#ffa500"/><circle cx="493.3" cy="292.3" r="2.5" fill="#ffa500"/><circle cx="498.7" cy="289.7" r="2.5" fill="#ffa500"/><circle cx="504.9" cy="287.0" r="2.5" fill="#ffa500"/><circle cx="512.0" cy="285.2" r="2.5" fill="#ffa500"/><circle cx="518.2" cy="283.8" r="2.5" fill="#ffa500"/><circle cx="525.3" cy="283.1" r="2.5" fill="#ffa500"/><circle cx="531.6" cy="283.1" r="2.5" fill="#ffa500"/><circle cx="537.8" cy="283.4" r="2.5" fill="#ffa500"/><circle cx="543.1" cy="283.1" r="2.5" fill="#ffa500"/><circle cx="548.4" cy="282.0" r="2.5" fill="#ffa500"/><circle cx="552.0" cy="281.3" r="2.5" fill="#ffa500"/><circle cx="557.3" cy="279.5" r="2.5" fill="#ffa500"/><circle cx="562.7" cy="278.1" r="2.5" fill="#ffa500"/><circle cx="568.0" cy="276.7" r="2.5" fill="#ffa500"/><circle cx="573.3" cy="276.0" r="2.5" fill="#ffa500"/><circle cx="578.7" cy="275.6" r="2.5" fill="#ffa500"/><circle cx="584.0" cy="276.0" r="2.5" fill="#ffa500"/><circle cx="590.7" cy="276.0" r="2.5" fill="#ffa500"/><circle cx="596.0" cy="275.3" r="2.5" fill="#ffa500"/><circle cx="601.3" cy="275.3" r="2.5" fill="#ffa500"/><circle cx="606.7" cy="275.3" r="2.5" fill="#ffa500"/><circle cx="612.0" cy="276.7" r="2.5" fill="#ffa500"/><circle cx="617.3" cy="280.0" r="2.5" fill="#ffa500"/><circle cx="621.3" cy="283.3" r="2.5" fill="#ffa500"/><circle cx="622.7" cy="288.7" r="2.5" fill="#ffa500"/><circle cx="624.7" cy="292.1" r="2.5" fill="#ffff00"/><circle cx="629.5" cy="290.5" r="2.5" fill="#ffff00"/><circle cx="634.0" cy="288.5" r="2.5" fill="#ffff00"/><circle cx="637.5" cy="286.0" r="2.5" fill="#ffff00"/><circle cx="641.4" cy="282.5" r="2.5" fill="#ffff00"/><circle cx="645.8" cy="279.1" r="2.5" fill="#ffff00"/><circle cx="651.3" cy="273.6" r="2.5" fill="#228b22"/><circle cx="657.1" cy="266.9" r="2.5" fill="#228b22"/><circle cx="662.8" cy="260.0" r="2.5" fill="#228b22"/><circle cx="668.6" cy="253.9" r="2.5" fill="#228b22"/><circle cx="674.7" cy="248.2" r="2.5" fill="#228b22"/><circle cx="681.9" cy="240.9" r="2.5" fill="#228b22"/><circle cx="690.6" cy="233.4" r="2.5" fill="#228b22"/><circle cx="699.2" cy="226.2" r="2.5" fill="#228b22"/><circle cx="708.5" cy="219.8" r="2.5" fill="#228b22"/><circle cx="718.0" cy="213.5" r="2.5" fill="#228b22"/><circle cx="728.7" cy="208.3" r="2.5" fill="#228b22"/><circle cx="739.7" cy="204.2" r="2.5" fill="#228b22"/><circle cx="751.0" cy="201.9" r="2.5" fill="#228b22"/><circle cx="762.3" cy="200.5" r="2.5" fill="#228b22"/><circle cx="772.9" cy="199.3" r="2.5" fill="#228b22"/><circle cx="783.6" cy="198.4" r="2.5" fill="#228b22"/><circle cx="794.3" cy="197.6" r="2.5" fill="#228b22"/><circle cx="805.3" cy="196.7" r="2.5" fill="#228b22"/><circle cx="815.4" cy="194.4" r="2.5" fill="#00ff00"/><circle cx="825.0" cy="190.3" r="2.5" fill="#00ff00"/><circle cx="835.1" cy="186.6" r="2.5" fill="#00ff00"/><circle cx="398.9" cy="369.1" r="2.5" fill="#ffa500"/><circle cx="406.0" cy="365.6" r="2.5" fill="#ffa500"/><circle cx="413.3" cy="362.7" r="2.5" fill="#ffa500"/><circle cx="420.7" cy="360.0" r="2.5" fill="#ffa500"/><circle cx="427.3" cy="357.3" r="2.5" fill="#ffa500"/><circle cx="434.0" cy="355.1" r="2.5" fill="#ffa500"/><circle cx="440.0" cy="352.0" r="2.5" fill="#ffa500"/><circle cx="444.5" cy="349.0" r="2.5" fill="#ffa500"/><circle cx="448.3" cy="346.1" r="2.5" fill="#ff0000"/><circle cx="452.8" cy="343.3" r="2.5" fill="#ff0000"/><circle cx="456.1" cy="340.0" r="2.5" fill="#ff0000"/><circle cx="459.5" cy="337.0" r="2.5" fill="#ff0000"/><circle cx="462.5" cy="334.0" r="2.5" fill="#ff0000"/><circle cx="465.5" cy="330.5" r="2.5" fill="#ff0000"/><circle cx="468.5" cy="327.0" r="2.5" fill="#ff0000"/><circle cx="471.0" cy="323.0" r="2.5" fill="#ff0000"/><circle cx="473.8" cy="319.5" r="2.5" fill="#ff0000"/><circle cx="476.7" cy="317.8" r="2.5" fill="#ffa500"/><circle cx="480.0" cy="313.9" r="2.5" fill="#ffa500"/><circle cx="483.9" cy="310.6" r="2.5" fill="#ffa500"/><circle cx="487.8" cy="306.7" r="2.5" fill="#ffa500"/><circle cx="492.8" cy="303.3" r="2.5" fill="#ffa500"/><circle cx="498.3" cy="300.6" r="2.5" fill="#ffa500"/><circle cx="505.0" cy="297.8" r="2.5" fill="#ffa500"/><circle cx="512.8" cy="295.0" r="2.5" fill="#ffa500"/><circle cx="521.1" cy="293.1" r="2.5" fill="#ffa500"/><circle cx="527.0" cy="294.0" r="2.5" fill="#ff0000"/><circle cx="533.0" cy="293.2" r="2.5" fill="#ff0000"/><circle cx="539.0" cy="292.5" r="2.5" fill="#ff0000"/><circle cx="545.8" cy="292.7" r="2.5" fill="#ff0000"/><circle cx="552.0" cy="292.3" r="2.5" fill="#ff0000"/><circle cx="557.3" cy="291.4" r="2.5" fill="#ff0000"/><circle cx="561.8" cy="291.4" r="2.5" fill="#ff0000"/><circle cx="568.0" cy="295.3" r="2.5" fill="#ffa500"/><circle cx="577.0" cy="294.5" r="2.5" fill="#ffa500"/><circle cx="586.7" cy="294.0" r="2.5" fill="#ffa500"/><circle cx="593.0" cy="293.5" r="2.5" fill="#ffa500"/><circle cx="600.0" cy="292.7" r="2.5" fill="#ffa500"/><circle cx="606.0" cy="292.7" r="2.5" fill="#ffa500"/><circle cx="613.3" cy="292.7" r="2.5" fill="#ffa500"/><circle cx="618.0" cy="292.7" r="2.5" fill="#ffa500"/><circle cx="622.7" cy="293.3" r="2.5" fill="#ffff00"/><circle cx="625.5" cy="293.4" r="2.5" fill="#ffa500"/><circle cx="628.0" cy="293.5" r="2.5" fill="#ffa500"/><circle cx="631.0" cy="293.7" r="2.5" fill="#ffa500"/><circle cx="634.7" cy="294.0" r="2.5" fill="#ffa500"/><circle cx="638.5" cy="294.3" r="2.5" fill="#ffa500"/><circle cx="642.7" cy="294.7" r="2.5" fill="#ffa500"/><circle cx="646.0" cy="295.0" r="2.5" fill="#ffa500"/><circle cx="649.0" cy="295.2" r="2.5" fill="#ffa500"/><circle cx="652.0" cy="295.3" r="2.5" fill="#ffa500"/><circle cx="657.3" cy="293.3" r="2.5" fill="#ffff00"/><circle cx="661.7" cy="290.1" r="2.5" fill="#228b22"/><circle cx="667.5" cy="285.4" r="2.5" fill="#228b22"/><circle cx="673.8" cy="279.9" r="2.5" fill="#228b22"/><circle cx="680.5" cy="273.6" r="2.5" fill="#228b22"/><circle cx="686.8" cy="267.5" r="2.5" fill="#228b22"/><circle cx="693.5" cy="260.9" r="2.5" fill="#228b22"/><circle cx="701.8" cy="253.6" r="2.5" fill="#228b22"/><circle cx="711.4" cy="247.0" r="2.5" fill="#228b22"/><circle cx="721.5" cy="240.6" r="2.5" fill="#228b22"/><circle cx="731.6" cy="235.7" r="2.5" fill="#228b22"/><circle cx="743.2" cy="231.4" r="2.5" fill="#228b22"/><circle cx="753.3" cy="228.5" r="2.5" fill="#228b22"/><circle cx="764.9" cy="225.6" r="2.5" fill="#228b22"/><circle cx="773.0" cy="223.3" r="2.5" fill="#228b22"/><circle cx="781.6" cy="222.1" r="2.5" fill="#228b22"/><circle cx="790.9" cy="220.7" r="2.5" fill="#228b22"/><circle cx="800.4" cy="219.2" r="2.5" fill="#228b22"/><circle cx="811.1" cy="218.1" r="2.5" fill="#228b22"/><circle cx="821.8" cy="216.9" r="2.5" fill="#228b22"/><circle cx="832.2" cy="215.8" r="2.5" fill="#228b22"/><circle cx="842.3" cy="214.9" r="2.5" fill="#228b22"/><circle cx="370.0" cy="385.5" r="2.5" fill="#ffff00"/><circle cx="377.0" cy="381.5" r="2.5" fill="#ffff00"/><circle cx="384.0" cy="377.5" r="2.5" fill="#ffff00"/><circle cx="391.0" cy="373.5" r="2.5" fill="#ffff00"/><circle cx="400.5" cy="370.5" r="2.5" fill="#ffa500"/><circle cx="407.5" cy="367.0" r="2.5" fill="#ffa500"/><circle cx="414.5" cy="364.0" r="2.5" fill="#ffa500"/><circle cx="421.5" cy="361.0" r="2.5" fill="#ffa500"/><circle cx="428.2" cy="358.5" r="2.5" fill="#ffa500"/><circle cx="434.5" cy="356.0" r="2.5" fill="#ffa500"/><circle cx="440.0" cy="353.2" r="2.5" fill="#ffa500"/><circle cx="444.8" cy="350.5" r="2.5" fill="#ffa500"/><circle cx="449.3" cy="347.3" r="2.5" fill="#ff0000"/><circle cx="453.8" cy="344.3" r="2.5" fill="#ff0000"/><circle cx="457.3" cy="341.0" r="2.5" fill="#ff0000"/><circle cx="461.0" cy="338.0" r="2.5" fill="#ff0000"/><circle cx="464.0" cy="334.8" r="2.5" fill="#ff0000"/><circle cx="467.0" cy="331.5" r="2.5" fill="#ff0000"/><circle cx="469.8" cy="328.0" r="2.5" fill="#ff0000"/><circle cx="472.3" cy="324.3" r="2.5" fill="#ff0000"/><circle cx="475.0" cy="320.5" r="2.5" fill="#ff0000"/><circle cx="478.0" cy="316.5" r="2.5" fill="#ffa500"/><circle cx="481.5" cy="313.0" r="2.5" fill="#ffa500"/><circle cx="485.3" cy="309.8" r="2.5" fill="#ffa500"/><circle cx="489.3" cy="306.0" r="2.5" fill="#ffa500"/><circle cx="494.3" cy="302.8" r="2.5" fill="#ffa500"/><circle cx="499.8" cy="300.0" r="2.5" fill="#ffa500"/><circle cx="506.5" cy="297.5" r="2.5" fill="#ffa500"/><circle cx="514.3" cy="295.0" r="2.5" fill="#ffa500"/><circle cx="521.5" cy="294.2" r="2.5" fill="#ffa500"/><circle cx="384.5" cy="385.5" r="2.5" fill="#ffa500"/><circle cx="392.8" cy="381.8" r="2.5" fill="#ffa500"/><circle cx="400.5" cy="377.5" r="2.5" fill="#ffa500"/><circle cx="408.0" cy="374.0" r="2.5" fill="#ffa500"/><circle cx="416.0" cy="370.0" r="2.5" fill="#ffa500"/><circle cx="423.5" cy="367.0" r="2.5" fill="#ffa500"/><circle cx="431.0" cy="364.5" r="2.5" fill="#ffa500"/><circle cx="437.8" cy="361.6" r="2.5" fill="#ffa500"/><circle cx="444.3" cy="359.0" r="2.5" fill="#ffa500"/><circle cx="450.6" cy="356.8" r="2.5" fill="#ffa500"/><circle cx="456.3" cy="354.1" r="2.5" fill="#ffa500"/><circle cx="461.7" cy="351.9" r="2.5" fill="#ffa500"/><circle cx="465.2" cy="350.1" r="2.5" fill="#ff0000"/><circle cx="469.2" cy="348.3" r="2.5" fill="#ff0000"/><circle cx="473.2" cy="346.6" r="2.5" fill="#ff0000"/><circle cx="476.8" cy="343.4" r="2.5" fill="#ff0000"/><circle cx="480.3" cy="340.3" r="2.5" fill="#ff0000"/><circle cx="483.2" cy="337.0" r="2.5" fill="#ff0000"/><circle cx="486.0" cy="333.2" r="2.5" fill="#ff0000"/><circle cx="488.8" cy="329.5" r="2.5" fill="#ff0000"/><circle cx="491.8" cy="325.5" r="2.5" fill="#ff0000"/><circle cx="494.8" cy="321.5" r="2.5" fill="#ff0000"/><circle cx="498.0" cy="317.8" r="2.5" fill="#ff0000"/><circle cx="501.5" cy="314.5" r="2.5" fill="#ff0000"/><circle cx="505.6" cy="316.1" r="2.5" fill="#ff0000"/><circle cx="510.0" cy="312.2" r="2.5" fill="#ff0000"/><circle cx="513.3" cy="308.9" r="2.5" fill="#ff0000"/><circle cx="516.7" cy="306.7" r="2.5" fill="#ff0000"/><circle cx="518.9" cy="303.3" r="2.5" fill="#ff0000"/><circle cx="523.3" cy="301.1" r="2.5" fill="#ff0000"/><circle cx="527.8" cy="298.9" r="2.5" fill="#ff0000"/><circle cx="533.0" cy="297.5" r="2.5" fill="#ff0000"/><circle cx="540.0" cy="296.5" r="2.5" fill="#ff0000"/><circle cx="547.0" cy="296.0" r="2.5" fill="#ff0000"/><circle cx="554.0" cy="295.5" r="2.5" fill="#ff0000"/><circle cx="560.0" cy="295.5" r="2.5" fill="#ff0000"/><circle cx="565.0" cy="296.0" r="2.5" fill="#ff0000"/><circle cx="571.0" cy="296.5" r="2.5" fill="#ffa500"/><circle cx="577.0" cy="297.0" r="2.5" fill="#ffa500"/><circle cx="370.5" cy="401.8" r="2.5" fill="#ffff00"/><circle cx="378.5" cy="397.5" r="2.5" fill="#ffff00"/><circle cx="386.5" cy="393.2" r="2.5" fill="#ffff00"/><circle cx="395.0" cy="389.0" r="2.5" fill="#ffff00"/><circle cx="404.0" cy="384.8" r="2.5" fill="#ffff00"/><circle cx="412.2" cy="381.0" r="2.5" fill="#ffff00"/><circle cx="420.5" cy="377.5" r="2.5" fill="#ffff00"/><circle cx="428.0" cy="373.8" r="2.5" fill="#ffff00"/><circle cx="435.2" cy="370.2" r="2.5" fill="#ffff00"/><circle cx="441.8" cy="367.0" r="2.5" fill="#ffff00"/><circle cx="447.9" cy="363.6" r="2.5" fill="#ffff00"/><circle cx="453.7" cy="360.3" r="2.5" fill="#ff0000"/><circle cx="459.0" cy="357.2" r="2.5" fill="#ff0000"/><circle cx="464.3" cy="354.6" r="2.5" fill="#ff0000"/><circle cx="468.3" cy="351.1" r="2.5" fill="#ff0000"/><circle cx="472.3" cy="348.3" r="2.5" fill="#ff0000"/><circle cx="475.9" cy="345.7" r="2.5" fill="#ff0000"/><circle cx="478.6" cy="342.6" r="2.5" fill="#ff0000"/><circle cx="481.2" cy="339.9" r="2.5" fill="#ff0000"/><circle cx="483.4" cy="337.2" r="2.5" fill="#ff0000"/><circle cx="485.6" cy="334.4" r="2.5" fill="#ff0000"/><circle cx="488.3" cy="330.6" r="2.5" fill="#ff0000"/><circle cx="491.1" cy="326.7" r="2.5" fill="#ff0000"/><circle cx="494.4" cy="322.2" r="2.5" fill="#ff0000"/><circle cx="497.8" cy="317.8" r="2.5" fill="#ff0000"/><circle cx="501.1" cy="313.9" r="2.5" fill="#ff0000"/><circle cx="503.9" cy="310.0" r="2.5" fill="#ff0000"/><circle cx="506.7" cy="306.7" r="2.5" fill="#ff0000"/><circle cx="510.0" cy="303.3" r="2.5" fill="#ff0000"/><circle cx="514.4" cy="300.0" r="2.5" fill="#ff0000"/><circle cx="520.0" cy="297.2" r="2.5" fill="#ff0000"/><circle cx="525.6" cy="295.0" r="2.5" fill="#ff0000"/><circle cx="399.5" cy="386.5" r="2.5" fill="#ffa500"/><circle cx="407.5" cy="382.8" r="2.5" fill="#ffa500"/><circle cx="415.5" cy="379.2" r="2.5" fill="#ffa500"/><circle cx="423.5" cy="375.8" r="2.5" fill="#ffa500"/><circle cx="431.2" cy="372.5" r="2.5" fill="#ffa500"/><circle cx="439.0" cy="369.7" r="2.5" fill="#ffa500"/><circle cx="446.6" cy="367.0" r="2.5" fill="#ffa500"/><circle cx="454.1" cy="364.3" r="2.5" fill="#ffa500"/><circle cx="461.2" cy="361.9" r="2.5" fill="#ffa500"/><circle cx="467.4" cy="359.4" r="2.5" fill="#ffa500"/><circle cx="473.2" cy="357.2" r="2.5" fill="#ffa500"/><circle cx="477.9" cy="355.6" r="2.5" fill="#ffa500"/><circle cx="482.4" cy="353.2" r="2.5" fill="#ffa500"/><circle cx="486.5" cy="350.8" r="2.5" fill="#ff0000"/><circle cx="490.0" cy="348.5" r="2.5" fill="#ff0000"/><circle cx="493.6" cy="346.0" r="2.5" fill="#ff0000"/><circle cx="497.2" cy="343.4" r="2.5" fill="#ff0000"/><circle cx="500.8" cy="340.7" r="2.5" fill="#ff0000"/><circle cx="504.3" cy="338.2" r="2.5" fill="#ff0000"/><circle cx="508.0" cy="335.8" r="2.5" fill="#ff0000"/><circle cx="511.5" cy="333.0" r="2.5" fill="#ff0000"/><circle cx="515.0" cy="330.0" r="2.5" fill="#ff0000"/><circle cx="519.0" cy="327.0" r="2.5" fill="#ff0000"/><circle cx="523.0" cy="324.3" r="2.5" fill="#ff0000"/><circle cx="527.5" cy="321.5" r="2.5" fill="#ff0000"/><circle cx="532.0" cy="319.0" r="2.5" fill="#ff0000"/><circle cx="537.0" cy="317.0" r="2.5" fill="#ff0000"/><circle cx="542.0" cy="315.5" r="2.5" fill="#ff0000"/><circle cx="547.0" cy="314.5" r="2.5" fill="#ff0000"/><circle cx="552.0" cy="314.0" r="2.5" fill="#ff0000"/><circle cx="557.0" cy="313.8" r="2.5" fill="#ff0000"/><circle cx="562.0" cy="313.8" r="2.5" fill="#ff0000"/><circle cx="567.0" cy="314.0" r="2.5" fill="#ff0000"/><circle cx="572.0" cy="314.2" r="2.5" fill="#ff0000"/><circle cx="577.0" cy="314.5" r="2.5" fill="#ff0000"/><circle cx="385.3" cy="402.4" r="2.5" fill="#ffff00"/><circle cx="393.3" cy="398.4" r="2.5" fill="#ffff00"/><circle cx="402.3" cy="394.1" r="2.5" fill="#ffff00"/><circle cx="410.7" cy="390.1" r="2.5" fill="#ffff00"/><circle cx="419.6" cy="385.7" r="2.5" fill="#ffff00"/><circle cx="428.3" cy="381.7" r="2.5" fill="#ffff00"/><circle cx="436.4" cy="378.0" r="2.5" fill="#ffff00"/><circle cx="444.3" cy="374.4" r="2.5" fill="#ffff00"/><circle cx="451.5" cy="371.1" r="2.5" fill="#ffff00"/><circle cx="458.7" cy="367.6" r="2.5" fill="#ffff00"/><circle cx="465.3" cy="364.9" r="2.5" fill="#ffff00"/><circle cx="471.5" cy="362.2" r="2.5" fill="#ffa500"/><circle cx="477.8" cy="359.4" r="2.5" fill="#ff0000"/><circle cx="483.3" cy="356.7" r="2.5" fill="#ff0000"/><circle cx="487.2" cy="352.8" r="2.5" fill="#ff0000"/><circle cx="491.1" cy="350.0" r="2.5" fill="#ff0000"/><circle cx="494.4" cy="346.7" r="2.5" fill="#ff0000"/><circle cx="497.8" cy="343.3" r="2.5" fill="#ff0000"/><circle cx="501.1" cy="340.6" r="2.5" fill="#ff0000"/><circle cx="504.4" cy="337.2" r="2.5" fill="#ff0000"/><circle cx="507.8" cy="333.9" r="2.5" fill="#ff0000"/><circle cx="511.1" cy="331.1" r="2.5" fill="#ff0000"/><circle cx="514.4" cy="327.8" r="2.5" fill="#ff0000"/><circle cx="518.9" cy="323.9" r="2.5" fill="#ff0000"/><circle cx="523.3" cy="321.1" r="2.5" fill="#ff0000"/><circle cx="527.8" cy="317.8" r="2.5" fill="#ff0000"/><circle cx="533.0" cy="315.0" r="2.5" fill="#ff0000"/><circle cx="539.0" cy="313.0" r="2.5" fill="#ff0000"/><circle cx="545.0" cy="311.5" r="2.5" fill="#ff0000"/><circle cx="551.0" cy="310.5" r="2.5" fill="#ff0000"/><circle cx="557.0" cy="310.0" r="2.5" fill="#ff0000"/><circle cx="563.0" cy="309.5" r="2.5" fill="#ff0000"/><circle cx="569.0" cy="309.3" r="2.5" fill="#ff0000"/><circle cx="575.0" cy="309.5" r="2.5" fill="#ff0000"/><circle cx="581.0" cy="310.0" r="2.5" fill="#ff0000"/><circle cx="586.0" cy="310.5" r="2.5" fill="#ffa500"/><circle cx="592.0" cy="311.5" r="2.5" fill="#ffa500"/><circle cx="600.0" cy="312.7" r="2.5" fill="#ffa500"/><circle cx="608.0" cy="312.7" r="2.5" fill="#ffa500"/><circle cx="616.0" cy="312.7" r="2.5" fill="#ffa500"/><circle cx="624.0" cy="311.3" r="2.5" fill="#ffa500"/><circle cx="400.0" cy="402.4" r="2.5" fill="#ffff00"/><circle cx="408.4" cy="398.9" r="2.5" fill="#ffff00"/><circle cx="417.1" cy="395.3" r="2.5" fill="#ffff00"/><circle cx="425.7" cy="391.3" r="2.5" fill="#ffff00"/><circle cx="434.4" cy="387.6" r="2.5" fill="#ffff00"/><circle cx="443.1" cy="384.0" r="2.5" fill="#ffff00"/><circle cx="451.5" cy="380.4" r="2.5" fill="#ffff00"/><circle cx="460.0" cy="377.1" r="2.5" fill="#ffff00"/><circle cx="468.0" cy="374.0" r="2.5" fill="#ffff00"/><circle cx="475.3" cy="371.3" r="2.5" fill="#ffff00"/><circle cx="481.7" cy="368.3" r="2.5" fill="#ffff00"/><circle cx="487.4" cy="366.2" r="2.5" fill="#ffff00"/><circle cx="493.1" cy="363.7" r="2.5" fill="#ffa500"/><circle cx="497.8" cy="361.1" r="2.5" fill="#ff0000"/><circle cx="502.2" cy="358.9" r="2.5" fill="#ff0000"/><circle cx="506.7" cy="356.7" r="2.5" fill="#ff0000"/><circle cx="510.6" cy="354.4" r="2.5" fill="#ff0000"/><circle cx="514.4" cy="352.2" r="2.5" fill="#ff0000"/><circle cx="518.9" cy="350.0" r="2.5" fill="#ff0000"/><circle cx="523.3" cy="347.2" r="2.5" fill="#ff0000"/><circle cx="527.8" cy="345.0" r="2.5" fill="#ff0000"/><circle cx="532.5" cy="342.5" r="2.5" fill="#ff0000"/><circle cx="537.4" cy="340.5" r="2.5" fill="#ff0000"/><circle cx="542.8" cy="340.3" r="2.5" fill="#ff0000"/><circle cx="548.4" cy="340.0" r="2.5" fill="#ff0000"/><circle cx="554.7" cy="339.4" r="2.5" fill="#ff0000"/><circle cx="560.5" cy="339.4" r="2.5" fill="#ff0000"/><circle cx="566.6" cy="339.4" r="2.5" fill="#ff0000"/><circle cx="573.3" cy="339.4" r="2.5" fill="#ff0000"/><circle cx="581.0" cy="340.0" r="2.5" fill="#ff0000"/><circle cx="589.0" cy="341.2" r="2.5" fill="#ff0000"/><circle cx="596.0" cy="339.3" r="2.5" fill="#ff0000"/><circle cx="605.3" cy="342.0" r="2.5" fill="#ff0000"/><circle cx="611.0" cy="344.0" r="2.5" fill="#ffa500"/><circle cx="617.0" cy="345.7" r="2.5" fill="#ffa500"/><circle cx="624.0" cy="311.3" r="2.5" fill="#ffa500"/><circle cx="627.0" cy="312.4" r="2.5" fill="#ffa500"/><circle cx="629.5" cy="313.5" r="2.5" fill="#ffa500"/><circle cx="632.0" cy="314.4" r="2.5" fill="#ffa500"/><circle cx="634.7" cy="315.3" r="2.5" fill="#ffa500"/><circle cx="637.4" cy="316.0" r="2.5" fill="#ffa500"/><circle cx="640.0" cy="316.8" r="2.5" fill="#ffa500"/><circle cx="642.6" cy="317.4" r="2.5" fill="#ffa500"/><circle cx="645.3" cy="318.0" r="2.5" fill="#ffa500"/><circle cx="647.4" cy="318.4" r="2.5" fill="#ffa500"/><circle cx="649.5" cy="318.8" r="2.5" fill="#ffa500"/><circle cx="651.4" cy="319.0" r="2.5" fill="#ffa500"/><circle cx="653.3" cy="319.3" r="2.5" fill="#ffa500"/><circle cx="656.0" cy="320.7" r="2.5" fill="#ffff00"/><circle cx="660.0" cy="321.8" r="2.5" fill="#ffff00"/><circle cx="664.0" cy="322.7" r="2.5" fill="#ffff00"/><circle cx="668.0" cy="321.5" r="2.5" fill="#ffff00"/><circle cx="672.0" cy="319.3" r="2.5" fill="#ffff00"/><circle cx="677.3" cy="315.3" r="2.5" fill="#ffff00"/><circle cx="680.0" cy="311.3" r="2.5" fill="#ffff00"/><circle cx="684.0" cy="307.0" r="2.5" fill="#ffff00"/><circle cx="687.5" cy="303.0" r="2.5" fill="#ffff00"/><circle cx="690.6" cy="299.3" r="2.5" fill="#228b22"/><circle cx="694.6" cy="294.4" r="2.5" fill="#228b22"/><circle cx="698.4" cy="289.8" r="2.5" fill="#228b22"/><circle cx="702.1" cy="285.4" r="2.5" fill="#228b22"/><circle cx="705.0" cy="280.5" r="2.5" fill="#228b22"/><circle cx="708.5" cy="275.6" r="2.5" fill="#228b22"/><circle cx="712.3" cy="270.4" r="2.5" fill="#228b22"/><circle cx="716.3" cy="265.2" r="2.5" fill="#228b22"/><circle cx="721.5" cy="258.8" r="2.5" fill="#228b22"/><circle cx="726.7" cy="252.2" r="2.5" fill="#228b22"/><circle cx="732.2" cy="245.3" r="2.5" fill="#228b22"/><circle cx="738.8" cy="239.8" r="2.5" fill="#228b22"/><circle cx="746.1" cy="235.7" r="2.5" fill="#228b22"/><circle cx="753.6" cy="231.4" r="2.5" fill="#228b22"/><circle cx="759.9" cy="227.1" r="2.5" fill="#228b22"/><circle cx="765.4" cy="223.3" r="2.5" fill="#228b22"/><circle cx="770.6" cy="218.4" r="2.5" fill="#228b22"/><circle cx="775.8" cy="214.0" r="2.5" fill="#228b22"/><circle cx="781.6" cy="210.6" r="2.5" fill="#228b22"/><circle cx="788.6" cy="206.8" r="2.5" fill="#228b22"/><circle cx="796.9" cy="203.1" r="2.5" fill="#228b22"/><circle cx="805.3" cy="199.0" r="2.5" fill="#228b22"/><circle cx="816.3" cy="196.7" r="2.5" fill="#228b22"/><circle cx="827.0" cy="196.7" r="2.5" fill="#228b22"/><circle cx="838.0" cy="196.7" r="2.5" fill="#228b22"/><circle cx="607.8" cy="327.8" r="2.5" fill="#ffa500"/><circle cx="611.5" cy="330.2" r="2.5" fill="#ffa500"/><circle cx="615.6" cy="332.4" r="2.5" fill="#ffa500"/><circle cx="619.5" cy="334.0" r="2.5" fill="#ffa500"/><circle cx="623.3" cy="335.6" r="2.5" fill="#ffa500"/><circle cx="627.2" cy="336.5" r="2.5" fill="#ffa500"/><circle cx="631.1" cy="337.4" r="2.5" fill="#ffa500"/><circle cx="635.0" cy="338.2" r="2.5" fill="#ffa500"/><circle cx="638.9" cy="339.0" r="2.5" fill="#ffa500"/><circle cx="642.8" cy="339.6" r="2.5" fill="#ffa500"/><circle cx="646.7" cy="340.2" r="2.5" fill="#ffa500"/><circle cx="651.3" cy="340.8" r="2.5" fill="#ffa500"/><circle cx="656.0" cy="341.5" r="2.5" fill="#ffa500"/><circle cx="662.2" cy="342.1" r="2.5" fill="#ffa500"/><circle cx="668.4" cy="342.2" r="2.5" fill="#ffff00"/><circle cx="674.6" cy="342.6" r="2.5" fill="#ffff00"/><circle cx="680.9" cy="343.0" r="2.5" fill="#ffff00"/><circle cx="687.1" cy="343.8" r="2.5" fill="#ffff00"/><circle cx="693.3" cy="344.9" r="2.5" fill="#ffff00"/><circle cx="699.5" cy="346.1" r="2.5" fill="#ffff00"/><circle cx="705.8" cy="347.2" r="2.5" fill="#ffff00"/><circle cx="711.2" cy="348.3" r="2.5" fill="#ffff00"/><circle cx="716.6" cy="349.5" r="2.5" fill="#ffff00"/><circle cx="721.4" cy="351.0" r="2.5" fill="#ffff00"/><circle cx="727.2" cy="352.8" r="2.5" fill="#ffff00"/><circle cx="732.3" cy="355.3" r="2.5" fill="#ffff00"/><circle cx="737.3" cy="358.2" r="2.5" fill="#ffff00"/><circle cx="742.0" cy="360.6" r="2.5" fill="#ffff00"/><circle cx="746.7" cy="363.0" r="2.5" fill="#ffff00"/><circle cx="751.8" cy="364.7" r="2.5" fill="#ffff00"/><circle cx="757.3" cy="366.1" r="2.5" fill="#ffff00"/><circle cx="762.6" cy="367.3" r="2.5" fill="#ffff00"/><circle cx="768.0" cy="368.3" r="2.5" fill="#ffff00"/><circle cx="773.5" cy="369.3" r="2.5" fill="#ffff00"/><circle cx="778.5" cy="371.2" r="2.5" fill="#ffff00"/><circle cx="784.3" cy="373.1" r="2.5" fill="#ffff00"/><circle cx="790.1" cy="376.0" r="2.5" fill="#ffff00"/><circle cx="795.9" cy="378.4" r="2.5" fill="#ffff00"/><circle cx="801.6" cy="380.9" r="2.5" fill="#ffff00"/><circle cx="807.9" cy="383.8" r="2.5" fill="#ffff00"/><circle cx="814.2" cy="386.4" r="2.5" fill="#ffff00"/><circle cx="820.9" cy="388.8" r="2.5" fill="#ffff00"/><circle cx="827.7" cy="392.1" r="2.5" fill="#ffff00"/><circle cx="835.2" cy="395.5" r="2.5" fill="#ffff00"/><circle cx="842.5" cy="399.1" r="2.5" fill="#ffff00"/><circle cx="609.3" cy="343.3" r="2.5" fill="#ffa500"/><circle cx="614.0" cy="344.5" r="2.5" fill="#ffa500"/><circle cx="618.7" cy="345.7" r="2.5" fill="#ffa500"/><circle cx="626.4" cy="346.7" r="2.5" fill="#ffa500"/><circle cx="632.0" cy="347.3" r="2.5" fill="#ffa500"/><circle cx="637.3" cy="348.0" r="2.5" fill="#ffa500"/><circle cx="643.5" cy="348.5" r="2.5" fill="#ffa500"/><circle cx="649.8" cy="349.5" r="2.5" fill="#ffa500"/><circle cx="655.2" cy="350.3" r="2.5" fill="#ffff00"/><circle cx="661.4" cy="351.1" r="2.5" fill="#ffff00"/><circle cx="668.4" cy="352.2" r="2.5" fill="#ffff00"/><circle cx="674.6" cy="353.0" r="2.5" fill="#ffff00"/><circle cx="681.6" cy="353.4" r="2.5" fill="#ffa500"/><circle cx="688.6" cy="355.0" r="2.5" fill="#ffa500"/><circle cx="695.6" cy="358.1" r="2.5" fill="#ffa500"/><circle cx="701.9" cy="361.7" r="2.5" fill="#ffa500"/><circle cx="708.1" cy="365.1" r="2.5" fill="#ffa500"/><circle cx="713.5" cy="369.0" r="2.5" fill="#ffa500"/><circle cx="717.0" cy="373.5" r="2.5" fill="#ffa500"/><circle cx="720.0" cy="378.0" r="2.5" fill="#ffa500"/><circle cx="722.9" cy="384.9" r="2.5" fill="#ffa500"/><circle cx="725.8" cy="388.5" r="2.5" fill="#ffa500"/><circle cx="728.7" cy="392.1" r="2.5" fill="#ffa500"/><circle cx="732.3" cy="395.0" r="2.5" fill="#ffa500"/><circle cx="735.9" cy="397.9" r="2.5" fill="#ffa500"/><circle cx="738.8" cy="400.8" r="2.5" fill="#ffa500"/><circle cx="743.8" cy="403.7" r="2.5" fill="#ffa500"/><circle cx="748.9" cy="406.6" r="2.5" fill="#ffa500"/><circle cx="753.2" cy="409.5" r="2.5" fill="#ffa500"/><circle cx="757.6" cy="412.4" r="2.5" fill="#ffa500"/><circle cx="761.9" cy="415.3" r="2.5" fill="#ffa500"/><circle cx="766.2" cy="418.2" r="2.5" fill="#ffa500"/><circle cx="770.6" cy="420.3" r="2.5" fill="#ffa500"/><circle cx="776.4" cy="422.5" r="2.5" fill="#ffa500"/><circle cx="782.1" cy="423.9" r="2.5" fill="#ffa500"/><circle cx="788.6" cy="425.4" r="2.5" fill="#ffa500"/><circle cx="793.7" cy="427.1" r="2.5" fill="#ffff00"/><circle cx="798.8" cy="428.7" r="2.5" fill="#ffff00"/><circle cx="803.8" cy="430.0" r="2.5" fill="#ffff00"/><circle cx="809.6" cy="431.6" r="2.5" fill="#ffff00"/><circle cx="815.4" cy="433.3" r="2.5" fill="#ffff00"/><circle cx="821.2" cy="435.2" r="2.5" fill="#ffff00"/><circle cx="826.9" cy="436.6" r="2.5" fill="#ffff00"/><circle cx="832.7" cy="438.7" r="2.5" fill="#ffff00"/><circle cx="837.1" cy="441.3" r="2.5" fill="#ffff00"/><circle cx="839.9" cy="445.6" r="2.5" fill="#ffff00"/><circle cx="842.1" cy="451.4" r="2.5" fill="#ffff00"/><circle cx="843.6" cy="454.3" r="2.5" fill="#ffff00"/><circle cx="610.9" cy="350.3" r="2.5" fill="#ffa500"/><circle cx="615.5" cy="351.5" r="2.5" fill="#ffa500"/><circle cx="620.2" cy="352.7" r="2.5" fill="#ffa500"/><circle cx="625.6" cy="353.0" r="2.5" fill="#ffa500"/><circle cx="631.1" cy="353.4" r="2.5" fill="#ffa500"/><circle cx="635.7" cy="353.4" r="2.5" fill="#ffa500"/><circle cx="640.4" cy="353.4" r="2.5" fill="#ffa500"/><circle cx="646.6" cy="354.4" r="2.5" fill="#ffa500"/><circle cx="652.9" cy="355.5" r="2.5" fill="#ffa500"/><circle cx="658.3" cy="356.6" r="2.5" fill="#ffa500"/><circle cx="663.8" cy="357.8" r="2.5" fill="#ffa500"/><circle cx="671.5" cy="358.9" r="2.5" fill="#ffa500"/><circle cx="677.8" cy="360.1" r="2.5" fill="#ffa500"/><circle cx="684.8" cy="361.7" r="2.5" fill="#ffa500"/><circle cx="691.8" cy="363.5" r="2.5" fill="#ffa500"/><circle cx="698.0" cy="366.7" r="2.5" fill="#ffa500"/><circle cx="704.2" cy="370.1" r="2.5" fill="#ffa500"/><circle cx="708.0" cy="374.5" r="2.5" fill="#ffa500"/><circle cx="712.0" cy="377.5" r="2.5" fill="#ffa500"/><circle cx="716.6" cy="380.5" r="2.5" fill="#ffa500"/><circle cx="721.3" cy="384.8" r="2.5" fill="#ffa500"/><circle cx="726.0" cy="388.4" r="2.5" fill="#ffa500"/><circle cx="730.6" cy="393.1" r="2.5" fill="#ffa500"/><circle cx="735.3" cy="397.8" r="2.5" fill="#ffa500"/><circle cx="738.4" cy="400.9" r="2.5" fill="#ffa500"/><circle cx="741.7" cy="403.7" r="2.5" fill="#ffa500"/><circle cx="748.2" cy="408.0" r="2.5" fill="#ffa500"/><circle cx="753.2" cy="411.6" r="2.5" fill="#ffa500"/><circle cx="757.6" cy="413.8" r="2.5" fill="#ffa500"/><circle cx="761.9" cy="416.7" r="2.5" fill="#ffa500"/><circle cx="766.2" cy="419.6" r="2.5" fill="#ffa500"/><circle cx="770.6" cy="422.5" r="2.5" fill="#ffa500"/><circle cx="774.9" cy="425.4" r="2.5" fill="#ffa500"/><circle cx="779.2" cy="428.3" r="2.5" fill="#ffa500"/><circle cx="783.6" cy="431.2" r="2.5" fill="#ffa500"/><circle cx="787.9" cy="434.0" r="2.5" fill="#ffa500"/><circle cx="792.3" cy="436.2" r="2.5" fill="#ffa500"/><circle cx="795.9" cy="436.6" r="2.5" fill="#ffff00"/><circle cx="800.9" cy="438.1" r="2.5" fill="#ffff00"/><circle cx="806.7" cy="439.1" r="2.5" fill="#ffff00"/><circle cx="812.5" cy="440.5" r="2.5" fill="#ffff00"/><circle cx="818.3" cy="442.0" r="2.5" fill="#ffff00"/><circle cx="824.0" cy="443.4" r="2.5" fill="#ffff00"/><circle cx="829.8" cy="444.9" r="2.5" fill="#ffff00"/><circle cx="835.6" cy="446.3" r="2.5" fill="#ffff00"/><circle cx="839.9" cy="448.5" r="2.5" fill="#ffff00"/><circle cx="842.8" cy="452.8" r="2.5" fill="#ffff00"/><circle cx="615.6" cy="354.2" r="2.5" fill="#ffa500"/><circle cx="623.3" cy="357.3" r="2.5" fill="#ffa500"/><circle cx="631.1" cy="359.7" r="2.5" fill="#ffa500"/><circle cx="638.9" cy="361.2" r="2.5" fill="#ffa500"/><circle cx="646.7" cy="362.3" r="2.5" fill="#ffa500"/><circle cx="654.4" cy="363.5" r="2.5" fill="#ffa500"/><circle cx="662.2" cy="364.3" r="2.5" fill="#ffa500"/><circle cx="670.0" cy="365.9" r="2.5" fill="#ffa500"/><circle cx="677.8" cy="369.0" r="2.5" fill="#ffa500"/><circle cx="684.0" cy="370.1" r="2.5" fill="#ffff00"/><circle cx="691.8" cy="370.5" r="2.5" fill="#ffff00"/><circle cx="699.5" cy="370.5" r="2.5" fill="#ffff00"/><circle cx="708.9" cy="370.5" r="2.5" fill="#ffff00"/><circle cx="716.6" cy="370.1" r="2.5" fill="#ffff00"/><circle cx="721.4" cy="370.2" r="2.5" fill="#ffff00"/><circle cx="727.5" cy="369.7" r="2.5" fill="#ffff00"/><circle cx="733.3" cy="370.2" r="2.5" fill="#ffff00"/><circle cx="739.2" cy="370.8" r="2.5" fill="#ffff00"/><circle cx="744.6" cy="371.6" r="2.5" fill="#228b22"/><circle cx="750.1" cy="371.6" r="2.5" fill="#228b22"/><circle cx="755.8" cy="371.6" r="2.5" fill="#228b22"/><circle cx="761.9" cy="370.8" r="2.5" fill="#228b22"/><circle cx="769.1" cy="369.7" r="2.5" fill="#228b22"/><circle cx="777.1" cy="367.9" r="2.5" fill="#228b22"/><circle cx="784.7" cy="367.3" r="2.5" fill="#228b22"/><circle cx="793.7" cy="366.8" r="2.5" fill="#228b22"/><circle cx="803.5" cy="367.6" r="2.5" fill="#228b22"/><circle cx="812.5" cy="368.3" r="2.5" fill="#228b22"/><circle cx="821.6" cy="370.2" r="2.5" fill="#228b22"/><circle cx="830.1" cy="372.6" r="2.5" fill="#228b22"/><circle cx="837.8" cy="375.2" r="2.5" fill="#228b22"/><circle cx="843.5" cy="377.0" r="2.5" fill="#228b22"/><circle cx="614.8" cy="354.2" r="2.5" fill="#ffa500"/><circle cx="619.4" cy="358.1" r="2.5" fill="#ffa500"/><circle cx="624.9" cy="361.7" r="2.5" fill="#ffa500"/><circle cx="630.3" cy="365.1" r="2.5" fill="#ffa500"/><circle cx="636.5" cy="368.5" r="2.5" fill="#ffa500"/><circle cx="642.8" cy="372.1" r="2.5" fill="#ffa500"/><circle cx="648.2" cy="375.2" r="2.5" fill="#ffa500"/><circle cx="654.4" cy="378.3" r="2.5" fill="#ffa500"/><circle cx="660.7" cy="381.4" r="2.5" fill="#ffa500"/><circle cx="666.1" cy="383.8" r="2.5" fill="#ffa500"/><circle cx="672.3" cy="386.1" r="2.5" fill="#ffa500"/><circle cx="678.5" cy="388.1" r="2.5" fill="#ffa500"/><circle cx="684.8" cy="389.7" r="2.5" fill="#ffa500"/><circle cx="691.0" cy="391.5" r="2.5" fill="#ffa500"/><circle cx="697.2" cy="392.8" r="2.5" fill="#ffa500"/><circle cx="703.4" cy="394.3" r="2.5" fill="#ffa500"/><circle cx="710.4" cy="395.9" r="2.5" fill="#ffa500"/><circle cx="716.6" cy="397.0" r="2.5" fill="#ffa500"/><circle cx="723.6" cy="398.6" r="2.5" fill="#ffa500"/><circle cx="730.4" cy="400.5" r="2.5" fill="#ffa500"/><circle cx="737.0" cy="401.8" r="2.5" fill="#ffa500"/><circle cx="744.5" cy="403.3" r="2.5" fill="#ffa500"/><circle cx="752.1" cy="404.9" r="2.5" fill="#ffa500"/><circle cx="759.0" cy="406.3" r="2.5" fill="#ffa500"/><circle cx="766.0" cy="407.7" r="2.5" fill="#ffa500"/><circle cx="773.2" cy="409.2" r="2.5" fill="#ffa500"/><circle cx="780.7" cy="411.2" r="2.5" fill="#ffa500"/><circle cx="789.4" cy="413.5" r="2.5" fill="#ffa500"/><circle cx="797.7" cy="416.4" r="2.5" fill="#ffa500"/><circle cx="805.7" cy="418.9" r="2.5" fill="#ffff00"/><circle cx="813.9" cy="421.5" r="2.5" fill="#ffff00"/><circle cx="822.2" cy="424.8" r="2.5" fill="#ffff00"/><circle cx="829.8" cy="428.3" r="2.5" fill="#ffff00"/><circle cx="837.1" cy="432.3" r="2.5" fill="#ffff00"/><circle cx="842.8" cy="437.2" r="2.5" fill="#ffff00"/><circle cx="601.0" cy="278.3" r="2.5" fill="#ff0000"/><circle cx="600.3" cy="281.7" r="2.5" fill="#ff0000"/><circle cx="598.3" cy="286.3" r="2.5" fill="#ff0000"/><circle cx="579.0" cy="280.7" r="2.5" fill="#ffa500"/><circle cx="583.7" cy="281.0" r="2.5" fill="#ffa500"/><circle cx="588.3" cy="282.0" r="2.5" fill="#ffa500"/><circle cx="591.0" cy="283.7" r="2.5" fill="#ffa500"/><circle cx="565.0" cy="289.7" r="2.5" fill="#ffa500"/><circle cx="569.7" cy="287.0" r="2.5" fill="#ffa500"/><circle cx="573.7" cy="284.0" r="2.5" fill="#ffa500"/><circle cx="577.0" cy="286.3" r="2.5" fill="#ffa500"/><circle cx="569.0" cy="294.3" r="2.5" fill="#ffa500"/><circle cx="574.3" cy="293.0" r="2.5" fill="#ffa500"/><circle cx="578.5" cy="294.0" r="2.5" fill="#ffa500"/><circle cx="583.0" cy="295.0" r="2.5" fill="#ffa500"/><circle cx="568.3" cy="298.3" r="2.5" fill="#ffa500"/><circle cx="572.3" cy="297.7" r="2.5" fill="#ffa500"/><circle cx="577.7" cy="297.0" r="2.5" fill="#ffa500"/><circle cx="612.3" cy="301.0" r="2.5" fill="#ffa500"/><circle cx="619.0" cy="299.3" r="2.5" fill="#ffa500"/><circle cx="458.5" cy="362.5" r="2.5" fill="#ff0000"/><circle cx="463.5" cy="359.5" r="2.5" fill="#ff0000"/><circle cx="468.0" cy="356.5" r="2.5" fill="#ff0000"/><circle cx="472.0" cy="353.2" r="2.5" fill="#ff0000"/><circle cx="475.8" cy="350.0" r="2.5" fill="#ff0000"/><circle cx="479.3" cy="346.5" r="2.5" fill="#ff0000"/><circle cx="482.5" cy="343.0" r="2.5" fill="#ff0000"/><circle cx="485.5" cy="339.2" r="2.5" fill="#ff0000"/><circle cx="488.3" cy="335.4" r="2.5" fill="#ff0000"/><circle cx="491.0" cy="331.5" r="2.5" fill="#ff0000"/><circle cx="493.8" cy="327.5" r="2.5" fill="#ff0000"/><circle cx="496.8" cy="323.3" r="2.5" fill="#ff0000"/><circle cx="500.0" cy="319.2" r="2.5" fill="#ff0000"/><circle cx="503.3" cy="315.3" r="2.5" fill="#ff0000"/><circle cx="506.5" cy="311.6" r="2.5" fill="#ff0000"/><circle cx="509.8" cy="308.2" r="2.5" fill="#ff0000"/><circle cx="513.5" cy="305.0" r="2.5" fill="#ff0000"/><circle cx="518.0" cy="302.3" r="2.5" fill="#ff0000"/><circle cx="523.0" cy="300.0" r="2.5" fill="#ff0000"/><circle cx="528.5" cy="298.5" r="2.5" fill="#ff0000"/><circle cx="569.0" cy="287.0" r="2.5" fill="#ffa500"/><circle cx="575.0" cy="284.0" r="2.5" fill="#ffa500"/><circle cx="579.0" cy="288.0" r="2.5" fill="#ffa500"/><circle cx="573.0" cy="293.0" r="2.5" fill="#ffa500"/><circle cx="578.0" cy="296.0" r="2.5" fill="#ffa500"/><circle cx="583.0" cy="295.0" r="2.5" fill="#ffa500"/><circle cx="575.5" cy="296.5" r="2.5" fill="#ffa500"/><circle cx="568.0" cy="298.0" r="2.5" fill="#ffa500"/><circle cx="578.5" cy="293.0" r="2.5" fill="#ffa500"/><circle cx="589.0" cy="288.0" r="2.5" fill="#ffa500"/><circle cx="590.0" cy="281.0" r="2.5" fill="#ffa500"/><circle cx="597.7" cy="287.7" r="2.5" fill="#ffa500"/><circle cx="605.3" cy="294.3" r="2.5" fill="#ffa500"/><circle cx="613.0" cy="301.0" r="2.5" fill="#ffa500"/><circle cx="619.0" cy="299.0" r="2.5" fill="#ffa500"/><circle cx="625.0" cy="300.0" r="2.5" fill="#ffa500"/><circle cx="629.0" cy="302.0" r="2.5" fill="#ffa500"/><circle cx="630.0" cy="291.0" r="2.5" fill="#ffa500"/><circle cx="635.0" cy="296.0" r="2.5" fill="#ffa500"/><circle cx="641.0" cy="295.5" r="2.5" fill="#ffa500"/><circle cx="645.0" cy="295.5" r="2.5" fill="#ffa500"/><circle cx="633.2" cy="300.1" r="2.5" fill="#ffa500"/><circle cx="621.5" cy="304.8" r="2.5" fill="#ffa500"/><circle cx="609.8" cy="309.4" r="2.5" fill="#ffa500"/><circle cx="598.0" cy="314.0" r="2.5" fill="#ffa500"/><circle cx="594.0" cy="306.0" r="2.5" fill="#ffa500"/><circle cx="593.0" cy="300.0" r="2.5" fill="#ffa500"/><circle cx="366.1" cy="371.9" r="2.9" fill="#000"/><circle cx="366.1" cy="388.1" r="2.9" fill="#000"/><circle cx="366.1" cy="404.4" r="2.9" fill="#000"/><circle cx="380.8" cy="371.9" r="2.9" fill="#000"/><circle cx="380.8" cy="388.1" r="2.9" fill="#000"/><circle cx="380.8" cy="404.4" r="2.9" fill="#000"/><circle cx="395.0" cy="371.9" r="2.9" fill="#000"/><circle cx="395.0" cy="388.1" r="2.9" fill="#000"/><circle cx="395.0" cy="404.4" r="2.9" fill="#000"/></g>
<g fill="none" stroke="#000" stroke-width="1.3" stroke-linejoin="miter" shape-rendering="auto"><path d="M472.4,235.1 L480.4,235.1 L476.4,242.4 Z"/><path d="M620.5,308.0 L628.5,308.0 L624.5,315.3 Z"/><path d="M515.3,388.0 L523.3,388.0 L519.3,395.3 Z"/><path d="M642.4,400.9 L650.4,400.9 L646.4,408.2 Z"/><path d="M750.4,348.1 L758.4,348.1 L754.4,355.4 Z"/><path d="M795.6,366.1 L803.6,366.1 L799.6,373.4 Z"/><path d="M832.0,354.2 L840.0,354.2 L836.0,361.5 Z"/></g>
<rect x="117.5" y="116.7" width="726.9" height="493.6" fill="none" stroke="#000" stroke-width="1.3"/>
<g shape-rendering="auto"><line x1="103" y1="608" x2="117.5" y2="608" stroke="#111" stroke-width="1.1"/><text x="91.8" y="614.2" text-anchor="end" font-size="16.8">20°N</text><line x1="103" y1="546" x2="117.5" y2="546" stroke="#111" stroke-width="1.1"/><text x="91.8" y="552.5" text-anchor="end" font-size="16.8">22°N</text><line x1="103" y1="484" x2="117.5" y2="484" stroke="#111" stroke-width="1.1"/><text x="91.8" y="489.9" text-anchor="end" font-size="16.8">24°N</text><line x1="103" y1="420" x2="117.5" y2="420" stroke="#111" stroke-width="1.1"/><text x="91.8" y="426.4" text-anchor="end" font-size="16.8">26°N</text><line x1="103" y1="356" x2="117.5" y2="356" stroke="#111" stroke-width="1.1"/><text x="91.8" y="361.7" text-anchor="end" font-size="16.8">28°N</text><line x1="103" y1="290" x2="117.5" y2="290" stroke="#111" stroke-width="1.1"/><text x="91.8" y="295.8" text-anchor="end" font-size="16.8">30°N</text><line x1="103" y1="223" x2="117.5" y2="223" stroke="#111" stroke-width="1.1"/><text x="91.8" y="228.6" text-anchor="end" font-size="16.8">32°N</text><line x1="103" y1="154" x2="117.5" y2="154" stroke="#111" stroke-width="1.1"/><text x="91.8" y="159.9" text-anchor="end" font-size="16.8">34°N</text><line x1="208" y1="610.3" x2="208" y2="624.4" stroke="#111" stroke-width="1.1"/><text x="207.6" y="649.2" text-anchor="middle" font-size="16.8">65°E</text><line x1="352" y1="610.3" x2="352" y2="624.4" stroke="#111" stroke-width="1.1"/><text x="351.6" y="649.2" text-anchor="middle" font-size="16.8">70°E</text><line x1="496" y1="610.3" x2="496" y2="624.4" stroke="#111" stroke-width="1.1"/><text x="495.6" y="649.2" text-anchor="middle" font-size="16.8">75°E</text><line x1="640" y1="610.3" x2="640" y2="624.4" stroke="#111" stroke-width="1.1"/><text x="639.6" y="649.2" text-anchor="middle" font-size="16.8">80°E</text><line x1="784" y1="610.3" x2="784" y2="624.4" stroke="#111" stroke-width="1.1"/><text x="783.6" y="649.2" text-anchor="middle" font-size="16.8">85°E</text></g>
<g shape-rendering="auto"><rect x="218.30" y="663.6" width="43.79" height="14.7" fill="#fcfcfc" stroke="#000" stroke-width="1"/><rect x="262.09" y="663.6" width="43.79" height="14.7" fill="#e9e9e9" stroke="#000" stroke-width="1"/><rect x="305.88" y="663.6" width="43.79" height="14.7" fill="#d3d3d3" stroke="#000" stroke-width="1"/><rect x="349.68" y="663.6" width="43.79" height="14.7" fill="#bebebe" stroke="#000" stroke-width="1"/><rect x="393.47" y="663.6" width="43.79" height="14.7" fill="#a8a8a8" stroke="#000" stroke-width="1"/><rect x="437.26" y="663.6" width="43.79" height="14.7" fill="#929292" stroke="#000" stroke-width="1"/><rect x="481.05" y="663.6" width="43.79" height="14.7" fill="#7c7c7c" stroke="#000" stroke-width="1"/><rect x="524.84" y="663.6" width="43.79" height="14.7" fill="#666666" stroke="#000" stroke-width="1"/><rect x="568.63" y="663.6" width="43.79" height="14.7" fill="#505050" stroke="#000" stroke-width="1"/><rect x="612.42" y="663.6" width="43.79" height="14.7" fill="#3b3b3b" stroke="#000" stroke-width="1"/><rect x="656.22" y="663.6" width="43.79" height="14.7" fill="#252525" stroke="#000" stroke-width="1"/><rect x="700.01" y="663.6" width="43.79" height="14.7" fill="#0f0f0f" stroke="#000" stroke-width="1"/><text x="262.1" y="702.1" text-anchor="middle" font-size="17.8">.001</text><text x="349.7" y="702.1" text-anchor="middle" font-size="17.8">.1</text><text x="437.3" y="702.1" text-anchor="middle" font-size="17.8">.5</text><text x="524.8" y="702.1" text-anchor="middle" font-size="17.8">1</text><text x="612.4" y="702.1" text-anchor="middle" font-size="17.8">2</text><text x="700.0" y="702.1" text-anchor="middle" font-size="17.8">5</text></g>
<g shape-rendering="auto"><text x="121" y="99.6" font-size="12.5">Terrain Height</text><text x="210.3" y="99.4" font-size="12.2">(km)</text><text x="149.6" y="152.3" font-size="18.6" fill="#ffff00">2010-04-19_21:00:00</text></g>
<g shape-rendering="auto"><text x="149.4" y="466.9" font-size="18.6" fill="#000000">Trajectory PM2.5 (ug/m3)</text><text x="149.4" y="484.4" font-size="18.2" fill="#000000">z &lt; 1</text><text x="149.4" y="500.0" font-size="18.2" fill="#0000ff">1 &lt; z &lt; 5</text><text x="149.4" y="515.5" font-size="18.2" fill="#00ffff">5 &lt; z &lt; 10</text><text x="149.4" y="531.1" font-size="18.2" fill="#00ff00">10 &lt; z &lt; 20</text><text x="149.4" y="546.7" font-size="18.2" fill="#228b22">20 &lt; z &lt; 50</text><text x="149.4" y="562.3" font-size="18.2" fill="#ffff00">50 &lt; z &lt; 70</text><text x="149.4" y="577.8" font-size="18.2" fill="#ffa500">70 &lt; z &lt; 100</text><text x="149.4" y="593.4" font-size="18.2" fill="#ff0000">100 &lt; z &lt; 200</text><text x="149.4" y="609.0" font-size="18.2" fill="#ff00ff">200 &lt; z &lt; 500</text></g>
</svg>
</body></html>
